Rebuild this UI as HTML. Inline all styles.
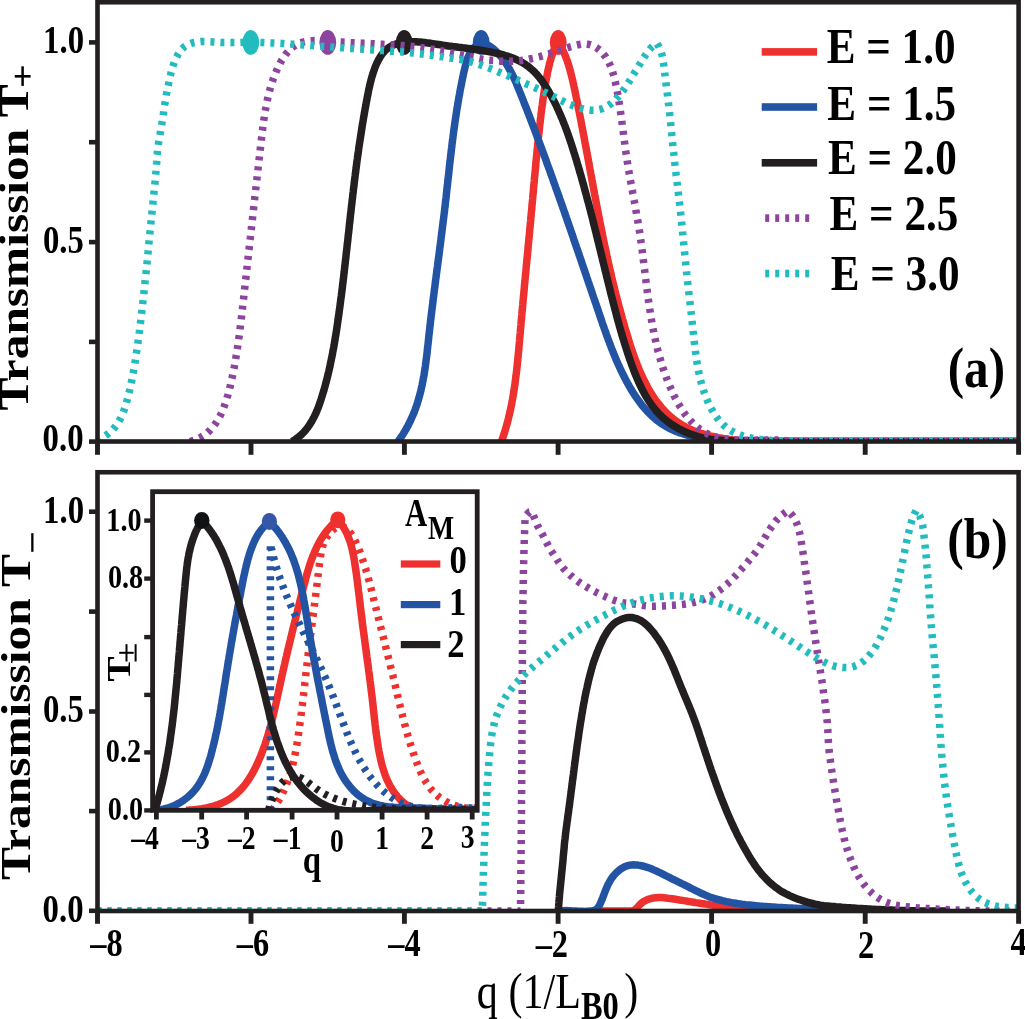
<!DOCTYPE html>
<html><head><meta charset="utf-8"><style>
html,body{margin:0;padding:0;background:#fff;}
svg{display:block;font-family:"Liberation Serif",serif;will-change:transform;}
</style></head><body>
<svg width="1025" height="1019" viewBox="0 0 1025 1019">
<rect width="1025" height="1019" fill="#fff"/>
<defs><clipPath id="cT"><rect x="97.5" y="2.25" width="921.1" height="439.25"/></clipPath><clipPath id="cB"><rect x="97.5" y="472.25" width="921.1" height="438.75"/></clipPath><clipPath id="cI"><rect x="152.6" y="491.7" width="324.6" height="318.6"/></clipPath></defs>
<g clip-path="url(#cT)">
<path d="M501.5,441.5 L502.2,439.6 L502.8,437.7 L503.4,435.8 L504.1,433.9 L504.7,432.0 L505.2,430.1 L505.8,428.2 L506.3,426.3 L506.9,424.4 L507.4,422.5 L507.9,420.6 L508.4,418.7 L508.8,416.8 L509.3,414.9 L509.7,412.9 L510.2,411.0 L510.6,409.1 L511.0,407.1 L511.4,405.2 L511.8,403.3 L512.1,401.3 L512.5,399.4 L512.8,397.4 L513.2,395.5 L513.5,393.6 L513.8,391.6 L514.1,389.6 L514.4,387.7 L514.7,385.7 L515.0,383.8 L515.2,381.8 L515.5,379.9 L515.7,377.9 L516.0,375.9 L516.2,374.0 L516.5,372.0 L516.7,370.0 L516.9,368.0 L517.1,366.1 L517.3,364.1 L517.5,362.1 L517.7,360.1 L517.9,358.2 L518.1,356.2 L518.3,354.2 L518.5,352.2 L518.7,350.2 L518.9,348.2 L519.0,346.2 L519.2,344.3 L519.4,342.3 L519.6,340.3 L519.7,338.3 L519.9,336.3 L520.1,334.3 L520.3,332.3 L520.4,330.3 L520.6,328.3 L520.8,326.3 L521.0,324.3 L521.1,322.3 L521.3,320.3 L521.5,318.3 L521.7,316.3 L521.9,314.3 L522.0,312.3 L522.2,310.3 L522.4,308.3 L522.6,306.3 L522.8,304.3 L522.9,302.3 L523.1,300.3 L523.3,298.3 L523.5,296.3 L523.7,294.3 L523.9,292.2 L524.1,290.2 L524.3,288.2 L524.4,286.2 L524.6,284.2 L524.8,282.2 L525.0,280.2 L525.2,278.2 L525.4,276.2 L525.6,274.2 L525.8,272.2 L526.0,270.2 L526.1,268.2 L526.3,266.2 L526.5,264.2 L526.7,262.2 L526.9,260.2 L527.1,258.2 L527.3,256.2 L527.5,254.2 L527.7,252.2 L527.9,250.2 L528.0,248.2 L528.2,246.2 L528.4,244.2 L528.6,242.2 L528.8,240.2 L529.0,238.2 L529.2,236.2 L529.4,234.2 L529.6,232.2 L529.7,230.2 L529.9,228.2 L530.1,226.2 L530.3,224.2 L530.5,222.3 L530.7,220.3 L530.8,218.3 L531.0,216.3 L531.2,214.3 L531.4,212.3 L531.6,210.4 L531.8,208.4 L531.9,206.4 L532.1,204.4 L532.3,202.5 L532.5,200.5 L532.7,198.5 L532.8,196.6 L533.0,194.6 L533.2,192.6 L533.4,190.6 L533.5,188.7 L533.7,186.7 L533.9,184.7 L534.1,182.7 L534.3,180.8 L534.4,178.8 L534.6,176.8 L534.8,174.8 L535.0,172.8 L535.2,170.9 L535.4,168.9 L535.6,166.9 L535.7,164.9 L535.9,162.9 L536.1,160.9 L536.3,158.9 L536.5,156.9 L536.7,154.9 L536.9,152.9 L537.1,150.9 L537.3,148.9 L537.5,146.9 L537.7,144.9 L537.9,142.8 L538.1,140.8 L538.3,138.8 L538.5,136.8 L538.7,134.8 L539.0,132.7 L539.2,130.7 L539.4,128.7 L539.6,126.7 L539.8,124.7 L540.1,122.7 L540.3,120.7 L540.5,118.7 L540.8,116.7 L541.0,114.7 L541.2,112.8 L541.5,110.8 L541.7,108.8 L542.0,106.9 L542.3,105.0 L542.5,103.1 L542.8,101.1 L543.0,99.2 L543.3,97.4 L543.6,95.5 L543.9,93.6 L544.1,91.8 L544.4,89.9 L544.7,88.1 L545.0,86.2 L545.4,84.3 L545.7,82.3 L546.1,80.3 L546.5,78.2 L546.9,76.1 L547.3,73.9 L547.7,71.7 L548.2,69.5 L548.7,67.2 L549.3,64.9 L549.8,62.6 L550.5,60.3 L551.1,58.0 L551.8,55.8 L552.5,53.6 L553.3,51.6 L554.1,49.7 L554.9,48.0 L555.8,46.7 L556.6,45.6 L557.5,44.9 L558.3,44.7 L559.2,45.0 L560.1,45.7 L560.9,46.8 L561.7,48.2 L562.5,49.7 L563.3,51.2 L564.0,52.8 L564.8,54.5 L565.4,56.2 L566.1,57.9 L566.8,59.6 L567.4,61.4 L568.0,63.2 L568.6,65.1 L569.1,66.9 L569.7,68.8 L570.2,70.7 L570.7,72.7 L571.2,74.6 L571.7,76.6 L572.2,78.6 L572.7,80.6 L573.1,82.6 L573.6,84.6 L574.0,86.6 L574.5,88.7 L574.9,90.7 L575.3,92.7 L575.7,94.8 L576.1,96.8 L576.6,98.8 L577.0,100.9 L577.4,102.9 L577.8,104.9 L578.2,106.9 L578.6,108.9 L579.0,110.9 L579.4,113.0 L579.8,115.0 L580.2,117.0 L580.6,119.0 L581.0,121.0 L581.3,123.0 L581.7,125.0 L582.1,127.0 L582.5,129.0 L582.9,131.0 L583.2,133.0 L583.6,134.9 L584.0,136.9 L584.4,138.9 L584.7,140.9 L585.1,142.9 L585.5,144.9 L585.8,146.8 L586.2,148.8 L586.6,150.8 L586.9,152.8 L587.3,154.7 L587.7,156.7 L588.0,158.7 L588.4,160.6 L588.8,162.6 L589.1,164.6 L589.5,166.5 L589.8,168.5 L590.2,170.4 L590.6,172.4 L590.9,174.4 L591.3,176.3 L591.7,178.3 L592.0,180.2 L592.4,182.2 L592.7,184.1 L593.1,186.1 L593.5,188.0 L593.8,190.0 L594.2,191.9 L594.5,193.9 L594.9,195.8 L595.3,197.7 L595.6,199.7 L596.0,201.6 L596.4,203.6 L596.7,205.5 L597.1,207.5 L597.5,209.4 L597.9,211.3 L598.2,213.3 L598.6,215.2 L599.0,217.1 L599.4,219.1 L599.7,221.0 L600.1,223.0 L600.5,224.9 L600.9,226.8 L601.3,228.8 L601.7,230.7 L602.1,232.6 L602.4,234.6 L602.8,236.5 L603.2,238.4 L603.6,240.4 L604.0,242.3 L604.4,244.2 L604.8,246.2 L605.3,248.1 L605.7,250.0 L606.1,252.0 L606.5,253.9 L606.9,255.8 L607.3,257.8 L607.8,259.7 L608.2,261.6 L608.6,263.6 L609.1,265.5 L609.5,267.4 L609.9,269.4 L610.4,271.3 L610.8,273.3 L611.3,275.2 L611.7,277.1 L612.2,279.1 L612.6,281.0 L613.1,282.9 L613.6,284.9 L614.1,286.8 L614.5,288.8 L615.0,290.7 L615.5,292.7 L616.0,294.6 L616.5,296.5 L617.0,298.5 L617.5,300.4 L618.0,302.4 L618.5,304.3 L619.0,306.3 L619.5,308.2 L620.1,310.2 L620.6,312.2 L621.1,314.1 L621.7,316.1 L622.2,318.0 L622.8,320.0 L623.3,321.9 L623.9,323.9 L624.5,325.9 L625.0,327.8 L625.6,329.8 L626.2,331.8 L626.8,333.7 L627.4,335.7 L628.0,337.7 L628.6,339.6 L629.2,341.6 L629.8,343.6 L630.4,345.5 L631.1,347.5 L631.7,349.5 L632.4,351.4 L633.1,353.4 L633.7,355.3 L634.4,357.3 L635.1,359.2 L635.9,361.1 L636.6,363.0 L637.3,364.9 L638.1,366.8 L638.8,368.7 L639.6,370.6 L640.4,372.5 L641.2,374.3 L642.1,376.1 L642.9,378.0 L643.8,379.8 L644.7,381.6 L645.6,383.3 L646.5,385.1 L647.4,386.8 L648.4,388.6 L649.4,390.3 L650.4,392.0 L651.4,393.6 L652.4,395.3 L653.5,396.9 L654.6,398.5 L655.7,400.1 L656.8,401.6 L658.0,403.2 L659.2,404.7 L660.4,406.2 L661.6,407.6 L662.9,409.1 L664.2,410.5 L665.5,411.8 L666.8,413.2 L668.2,414.5 L669.6,415.8 L671.0,417.0 L672.5,418.2 L673.9,419.4 L675.5,420.6 L677.0,421.7 L678.6,422.8 L680.2,423.8 L681.8,424.9 L683.5,425.8 L685.2,426.8 L687.0,427.7 L688.7,428.6 L690.5,429.4 L692.4,430.2 L694.2,430.9 L696.1,431.7 L698.0,432.4 L700.0,433.0 L701.9,433.6 L703.9,434.2 L705.9,434.8 L707.9,435.3 L709.9,435.8 L712.0,436.3 L714.0,436.7 L716.0,437.2 L718.1,437.6 L720.2,437.9 L722.2,438.3 L724.3,438.6 L726.3,438.9 L728.4,439.2 L730.4,439.4 L732.5,439.7 L734.5,439.9 L736.5,440.1 L738.5,440.3 L740.5,440.5 L742.5,440.6 L744.5,440.7 L746.5,440.9 L748.4,441.0 L750.4,441.1 L752.3,441.1 L754.3,441.2 L756.2,441.3 L758.2,441.3 L760.1,441.4 L762.1,441.4 L764.0,441.4 L766.0,441.5 L767.9,441.5 L769.9,441.5 L771.9,441.5 L773.8,441.5 L775.8,441.5 L777.8,441.5 L779.8,441.5 L781.8,441.5 L783.9,441.5 L785.9,441.5 L787.9,441.5 L790.0,441.5 L1018.6,441.5 " fill="none" stroke="#ee302e" stroke-width="7.5" stroke-linejoin="round"/>
<ellipse cx="558.2" cy="42.4" rx="8.4" ry="12.4" fill="#ee302e"/>
<path d="M398.0,441.5 L399.2,439.8 L400.5,438.1 L401.6,436.3 L402.8,434.6 L403.9,432.8 L404.9,431.1 L406.0,429.3 L406.9,427.5 L407.9,425.8 L408.8,424.0 L409.7,422.2 L410.6,420.4 L411.4,418.6 L412.2,416.8 L413.0,415.0 L413.8,413.2 L414.5,411.3 L415.2,409.5 L415.8,407.7 L416.5,405.8 L417.1,404.0 L417.7,402.1 L418.2,400.3 L418.8,398.4 L419.3,396.5 L419.8,394.7 L420.3,392.8 L420.8,390.9 L421.2,389.0 L421.6,387.1 L422.1,385.2 L422.4,383.3 L422.8,381.4 L423.2,379.5 L423.5,377.6 L423.9,375.7 L424.2,373.8 L424.5,371.8 L424.8,369.9 L425.1,368.0 L425.4,366.0 L425.6,364.1 L425.9,362.2 L426.1,360.2 L426.4,358.3 L426.6,356.3 L426.9,354.4 L427.1,352.4 L427.3,350.4 L427.5,348.5 L427.7,346.5 L428.0,344.5 L428.2,342.5 L428.4,340.6 L428.6,338.6 L428.8,336.6 L429.0,334.6 L429.3,332.6 L429.5,330.6 L429.7,328.6 L429.9,326.6 L430.2,324.6 L430.4,322.6 L430.6,320.6 L430.9,318.6 L431.1,316.6 L431.3,314.6 L431.6,312.6 L431.8,310.6 L432.1,308.6 L432.3,306.6 L432.6,304.6 L432.8,302.6 L433.1,300.5 L433.3,298.5 L433.6,296.5 L433.8,294.5 L434.1,292.5 L434.3,290.5 L434.6,288.4 L434.9,286.4 L435.1,284.4 L435.4,282.4 L435.6,280.3 L435.9,278.3 L436.2,276.3 L436.4,274.3 L436.7,272.3 L436.9,270.2 L437.2,268.2 L437.5,266.2 L437.7,264.2 L438.0,262.2 L438.3,260.1 L438.5,258.1 L438.8,256.1 L439.1,254.1 L439.3,252.1 L439.6,250.0 L439.8,248.0 L440.1,246.0 L440.4,244.0 L440.6,242.0 L440.9,240.0 L441.1,238.0 L441.4,236.0 L441.6,233.9 L441.9,231.9 L442.1,229.9 L442.4,227.9 L442.6,225.9 L442.9,223.9 L443.1,221.9 L443.4,220.0 L443.6,218.0 L443.9,216.0 L444.1,214.0 L444.4,212.0 L444.6,210.0 L444.8,208.0 L445.1,206.1 L445.3,204.1 L445.5,202.1 L445.7,200.2 L446.0,198.2 L446.2,196.2 L446.4,194.3 L446.6,192.3 L446.8,190.4 L447.0,188.4 L447.3,186.4 L447.5,184.5 L447.7,182.5 L447.9,180.6 L448.1,178.6 L448.3,176.7 L448.6,174.8 L448.8,172.8 L449.0,170.9 L449.2,168.9 L449.4,167.0 L449.6,165.0 L449.8,163.1 L450.1,161.1 L450.3,159.2 L450.5,157.2 L450.7,155.3 L451.0,153.4 L451.2,151.4 L451.4,149.5 L451.7,147.5 L451.9,145.6 L452.1,143.6 L452.4,141.6 L452.6,139.7 L452.9,137.7 L453.1,135.8 L453.4,133.8 L453.6,131.8 L453.9,129.9 L454.2,127.9 L454.5,125.9 L454.7,124.0 L455.0,122.0 L455.3,120.0 L455.6,118.0 L455.9,116.0 L456.2,114.0 L456.5,112.0 L456.8,110.0 L457.1,108.0 L457.5,106.0 L457.8,104.0 L458.1,102.0 L458.5,100.0 L458.8,98.0 L459.2,95.9 L459.6,93.9 L459.9,91.9 L460.3,89.8 L460.7,87.8 L461.1,85.7 L461.5,83.7 L461.9,81.6 L462.3,79.5 L462.8,77.4 L463.2,75.4 L463.6,73.3 L464.1,71.2 L464.6,69.1 L465.1,67.0 L465.6,64.9 L466.1,62.9 L466.7,60.9 L467.3,59.0 L468.0,57.2 L468.8,55.4 L469.6,53.7 L470.5,52.1 L471.4,50.6 L472.4,49.2 L473.6,47.9 L474.8,46.8 L476.1,45.9 L477.5,45.1 L478.9,44.4 L480.4,44.0 L482.0,43.8 L483.6,43.9 L485.2,44.2 L486.9,44.7 L488.5,45.5 L490.2,46.5 L491.8,47.6 L493.4,48.9 L495.0,50.3 L496.5,51.7 L497.9,53.2 L499.3,54.7 L500.6,56.2 L501.9,57.7 L503.2,59.3 L504.3,61.0 L505.5,62.6 L506.6,64.3 L507.6,66.0 L508.7,67.7 L509.6,69.5 L510.6,71.2 L511.5,73.0 L512.4,74.8 L513.3,76.6 L514.1,78.4 L515.0,80.3 L515.8,82.1 L516.6,84.0 L517.3,85.8 L518.1,87.7 L518.9,89.6 L519.6,91.4 L520.4,93.3 L521.1,95.2 L521.9,97.1 L522.6,98.9 L523.4,100.8 L524.1,102.7 L524.8,104.6 L525.6,106.4 L526.3,108.3 L527.1,110.2 L527.8,112.1 L528.5,113.9 L529.2,115.8 L530.0,117.7 L530.7,119.6 L531.4,121.5 L532.1,123.3 L532.8,125.2 L533.6,127.1 L534.3,129.0 L535.0,130.8 L535.7,132.7 L536.4,134.6 L537.1,136.5 L537.8,138.3 L538.5,140.2 L539.2,142.1 L539.9,144.0 L540.6,145.9 L541.3,147.7 L542.0,149.6 L542.7,151.5 L543.4,153.4 L544.1,155.3 L544.8,157.1 L545.5,159.0 L546.2,160.9 L546.8,162.8 L547.5,164.7 L548.2,166.5 L548.9,168.4 L549.6,170.3 L550.3,172.2 L550.9,174.1 L551.6,175.9 L552.3,177.8 L553.0,179.7 L553.6,181.6 L554.3,183.5 L555.0,185.3 L555.6,187.2 L556.3,189.1 L557.0,191.0 L557.6,192.9 L558.3,194.7 L559.0,196.6 L559.6,198.5 L560.3,200.4 L561.0,202.3 L561.6,204.2 L562.3,206.0 L562.9,207.9 L563.6,209.8 L564.3,211.7 L564.9,213.6 L565.6,215.5 L566.2,217.3 L566.9,219.2 L567.5,221.1 L568.2,223.0 L568.8,224.9 L569.5,226.8 L570.2,228.7 L570.8,230.5 L571.5,232.4 L572.1,234.3 L572.8,236.2 L573.4,238.1 L574.0,240.0 L574.7,241.9 L575.3,243.7 L576.0,245.6 L576.6,247.5 L577.3,249.4 L577.9,251.3 L578.6,253.2 L579.2,255.1 L579.9,257.0 L580.5,258.8 L581.2,260.7 L581.8,262.6 L582.4,264.5 L583.1,266.4 L583.7,268.3 L584.4,270.2 L585.0,272.1 L585.7,274.0 L586.3,275.8 L586.9,277.7 L587.6,279.6 L588.2,281.5 L588.9,283.4 L589.5,285.3 L590.2,287.2 L590.8,289.1 L591.5,291.0 L592.1,292.9 L592.7,294.8 L593.4,296.7 L594.0,298.5 L594.7,300.4 L595.3,302.3 L596.0,304.2 L596.6,306.1 L597.3,308.0 L597.9,309.9 L598.6,311.8 L599.2,313.7 L599.8,315.6 L600.5,317.5 L601.1,319.4 L601.8,321.3 L602.4,323.2 L603.1,325.1 L603.8,327.0 L604.4,328.8 L605.1,330.7 L605.8,332.6 L606.4,334.5 L607.1,336.4 L607.8,338.3 L608.5,340.2 L609.2,342.0 L609.9,343.9 L610.6,345.8 L611.3,347.7 L612.0,349.5 L612.8,351.4 L613.5,353.3 L614.3,355.1 L615.1,357.0 L615.8,358.8 L616.6,360.7 L617.4,362.5 L618.2,364.3 L619.1,366.2 L619.9,368.0 L620.7,369.8 L621.6,371.6 L622.5,373.4 L623.4,375.2 L624.3,377.0 L625.2,378.8 L626.2,380.6 L627.1,382.4 L628.1,384.1 L629.1,385.9 L630.1,387.6 L631.1,389.4 L632.2,391.1 L633.2,392.8 L634.3,394.5 L635.4,396.2 L636.6,397.9 L637.7,399.5 L638.9,401.1 L640.1,402.7 L641.3,404.3 L642.5,405.8 L643.8,407.4 L645.1,408.9 L646.4,410.3 L647.7,411.8 L649.1,413.2 L650.5,414.6 L651.9,415.9 L653.3,417.2 L654.8,418.5 L656.3,419.8 L657.8,421.0 L659.3,422.1 L660.9,423.3 L662.5,424.3 L664.2,425.4 L665.8,426.4 L667.5,427.3 L669.3,428.3 L671.0,429.1 L672.8,430.0 L674.6,430.7 L676.4,431.5 L678.3,432.2 L680.1,432.9 L682.0,433.5 L684.0,434.1 L685.9,434.7 L687.8,435.3 L689.8,435.8 L691.8,436.2 L693.8,436.7 L695.8,437.1 L697.8,437.5 L699.8,437.9 L701.9,438.2 L703.9,438.5 L706.0,438.8 L708.0,439.1 L710.1,439.3 L712.1,439.6 L714.2,439.8 L716.3,440.0 L718.4,440.2 L720.4,440.3 L722.5,440.5 L724.6,440.6 L726.6,440.7 L728.7,440.8 L730.7,440.9 L732.8,441.0 L734.8,441.0 L736.8,441.1 L738.9,441.1 L740.9,441.2 L742.8,441.2 L744.8,441.3 L746.8,441.3 L748.7,441.3 L750.7,441.4 L752.6,441.4 L754.5,441.4 L756.3,441.4 L758.2,441.5 L760.0,441.5 L1018.6,441.5 " fill="none" stroke="#2354a4" stroke-width="7.5" stroke-linejoin="round"/>
<ellipse cx="481.2" cy="42.4" rx="8.4" ry="12.4" fill="#2354a4"/>
<path d="M292.0,441.5 L293.8,440.4 L295.5,439.3 L297.1,438.1 L298.7,436.9 L300.2,435.6 L301.7,434.3 L303.1,432.9 L304.4,431.5 L305.7,430.0 L306.9,428.5 L308.1,426.9 L309.2,425.3 L310.3,423.7 L311.3,422.0 L312.3,420.3 L313.2,418.6 L314.2,416.8 L315.0,415.0 L315.9,413.2 L316.7,411.3 L317.4,409.5 L318.2,407.6 L318.9,405.7 L319.6,403.8 L320.2,401.9 L320.9,400.0 L321.5,398.0 L322.1,396.1 L322.7,394.2 L323.3,392.2 L323.9,390.3 L324.4,388.3 L325.0,386.4 L325.5,384.4 L326.0,382.5 L326.5,380.6 L327.0,378.6 L327.5,376.7 L328.0,374.7 L328.4,372.8 L328.9,370.8 L329.3,368.9 L329.8,366.9 L330.2,365.0 L330.6,363.0 L331.0,361.1 L331.4,359.1 L331.8,357.2 L332.2,355.2 L332.6,353.3 L332.9,351.3 L333.3,349.3 L333.7,347.4 L334.0,345.4 L334.4,343.5 L334.7,341.5 L335.0,339.6 L335.3,337.6 L335.7,335.6 L336.0,333.7 L336.3,331.7 L336.6,329.7 L336.9,327.8 L337.2,325.8 L337.5,323.8 L337.8,321.8 L338.0,319.9 L338.3,317.9 L338.6,315.9 L338.9,313.9 L339.2,311.9 L339.4,310.0 L339.7,308.0 L340.0,306.0 L340.2,304.0 L340.5,302.0 L340.7,300.0 L341.0,298.0 L341.3,296.0 L341.5,294.1 L341.8,292.1 L342.0,290.1 L342.3,288.1 L342.5,286.1 L342.7,284.1 L343.0,282.1 L343.2,280.1 L343.5,278.1 L343.7,276.1 L343.9,274.1 L344.2,272.1 L344.4,270.1 L344.6,268.1 L344.9,266.0 L345.1,264.0 L345.3,262.0 L345.5,260.0 L345.8,258.0 L346.0,256.0 L346.2,254.0 L346.4,252.0 L346.7,250.0 L346.9,248.0 L347.1,246.0 L347.3,244.0 L347.6,242.0 L347.8,240.0 L348.0,238.0 L348.2,236.0 L348.4,234.0 L348.7,232.0 L348.9,230.0 L349.1,228.0 L349.3,225.9 L349.5,223.9 L349.8,221.9 L350.0,219.9 L350.2,217.9 L350.4,215.9 L350.6,213.9 L350.9,212.0 L351.1,210.0 L351.3,208.0 L351.5,206.0 L351.8,204.0 L352.0,202.0 L352.2,200.0 L352.5,198.0 L352.7,196.0 L352.9,194.0 L353.2,192.0 L353.4,190.1 L353.6,188.1 L353.9,186.1 L354.1,184.1 L354.3,182.1 L354.6,180.2 L354.8,178.2 L355.1,176.2 L355.3,174.2 L355.6,172.3 L355.8,170.3 L356.1,168.3 L356.3,166.4 L356.6,164.4 L356.8,162.4 L357.1,160.5 L357.4,158.5 L357.6,156.6 L357.9,154.6 L358.2,152.7 L358.5,150.7 L358.7,148.8 L359.0,146.8 L359.3,144.9 L359.6,143.0 L359.9,141.0 L360.2,139.1 L360.5,137.1 L360.8,135.2 L361.1,133.3 L361.4,131.3 L361.7,129.4 L362.0,127.4 L362.3,125.4 L362.6,123.5 L363.0,121.5 L363.3,119.5 L363.6,117.6 L364.0,115.6 L364.3,113.6 L364.7,111.6 L365.0,109.6 L365.4,107.6 L365.8,105.5 L366.1,103.5 L366.5,101.5 L366.9,99.4 L367.3,97.3 L367.7,95.3 L368.1,93.2 L368.5,91.1 L368.9,89.0 L369.4,87.0 L369.9,84.9 L370.3,82.8 L370.9,80.8 L371.4,78.7 L372.0,76.7 L372.6,74.7 L373.2,72.7 L373.9,70.7 L374.6,68.8 L375.3,66.8 L376.1,64.9 L376.9,63.1 L377.8,61.3 L378.7,59.5 L379.7,57.8 L380.7,56.2 L381.8,54.6 L382.9,53.1 L384.1,51.7 L385.3,50.4 L386.6,49.2 L388.0,48.1 L389.5,47.1 L391.0,46.2 L392.5,45.4 L394.1,44.7 L395.8,44.1 L397.5,43.5 L399.2,43.0 L401.0,42.7 L402.8,42.3 L404.7,42.1 L406.5,41.9 L408.5,41.8 L410.4,41.7 L412.3,41.7 L414.3,41.8 L416.3,41.8 L418.3,42.0 L420.3,42.1 L422.3,42.3 L424.3,42.5 L426.4,42.8 L428.4,43.0 L430.4,43.3 L432.5,43.6 L434.5,43.9 L436.5,44.2 L438.5,44.5 L440.6,44.8 L442.6,45.1 L444.6,45.4 L446.6,45.7 L448.6,46.0 L450.6,46.2 L452.6,46.5 L454.6,46.7 L456.6,47.0 L458.6,47.3 L460.6,47.5 L462.6,47.8 L464.7,48.0 L466.7,48.3 L468.7,48.6 L470.7,48.8 L472.8,49.1 L474.8,49.4 L476.9,49.7 L479.0,50.0 L481.1,50.3 L483.1,50.6 L485.2,51.0 L487.3,51.4 L489.4,51.7 L491.5,52.1 L493.6,52.6 L495.6,53.0 L497.6,53.5 L499.7,53.9 L501.7,54.5 L503.6,55.0 L505.5,55.6 L507.4,56.1 L509.3,56.8 L511.1,57.4 L512.9,58.1 L514.7,58.8 L516.4,59.6 L518.1,60.4 L519.7,61.2 L521.4,62.1 L523.0,63.0 L524.5,63.9 L526.0,64.9 L527.5,66.0 L529.0,67.1 L530.4,68.3 L531.8,69.5 L533.2,70.8 L534.6,72.1 L535.9,73.5 L537.2,74.9 L538.4,76.4 L539.7,77.9 L540.9,79.5 L542.1,81.1 L543.2,82.8 L544.4,84.5 L545.5,86.2 L546.6,87.9 L547.7,89.7 L548.7,91.4 L549.7,93.2 L550.7,95.0 L551.7,96.8 L552.7,98.6 L553.6,100.5 L554.6,102.3 L555.5,104.1 L556.4,105.9 L557.2,107.8 L558.1,109.6 L558.9,111.4 L559.7,113.3 L560.5,115.1 L561.3,117.0 L562.1,118.8 L562.9,120.7 L563.6,122.6 L564.3,124.4 L565.1,126.3 L565.8,128.2 L566.5,130.1 L567.2,131.9 L567.8,133.8 L568.5,135.7 L569.2,137.6 L569.8,139.5 L570.4,141.4 L571.1,143.3 L571.7,145.2 L572.3,147.1 L572.9,149.0 L573.5,150.9 L574.1,152.8 L574.7,154.7 L575.3,156.6 L575.9,158.5 L576.5,160.4 L577.0,162.4 L577.6,164.3 L578.2,166.2 L578.7,168.1 L579.3,170.0 L579.8,172.0 L580.4,173.9 L581.0,175.8 L581.5,177.7 L582.0,179.7 L582.6,181.6 L583.1,183.5 L583.7,185.4 L584.2,187.4 L584.7,189.3 L585.2,191.2 L585.8,193.2 L586.3,195.1 L586.8,197.0 L587.3,199.0 L587.8,200.9 L588.4,202.9 L588.9,204.8 L589.4,206.7 L589.9,208.7 L590.4,210.6 L590.9,212.6 L591.4,214.5 L591.9,216.4 L592.4,218.4 L592.9,220.3 L593.3,222.3 L593.8,224.2 L594.3,226.2 L594.8,228.1 L595.3,230.1 L595.8,232.0 L596.3,233.9 L596.7,235.9 L597.2,237.8 L597.7,239.8 L598.2,241.7 L598.7,243.7 L599.1,245.6 L599.6,247.6 L600.1,249.5 L600.6,251.4 L601.0,253.4 L601.5,255.3 L602.0,257.3 L602.5,259.2 L602.9,261.2 L603.4,263.1 L603.9,265.0 L604.4,267.0 L604.8,268.9 L605.3,270.9 L605.8,272.8 L606.3,274.7 L606.7,276.7 L607.2,278.6 L607.7,280.6 L608.2,282.5 L608.6,284.4 L609.1,286.4 L609.6,288.3 L610.1,290.2 L610.5,292.2 L611.0,294.1 L611.5,296.0 L612.0,297.9 L612.5,299.9 L613.0,301.8 L613.5,303.7 L614.0,305.6 L614.5,307.6 L615.0,309.5 L615.5,311.4 L616.0,313.3 L616.5,315.3 L617.0,317.2 L617.5,319.1 L618.0,321.0 L618.6,322.9 L619.1,324.9 L619.6,326.8 L620.2,328.7 L620.7,330.6 L621.3,332.5 L621.8,334.5 L622.4,336.4 L623.0,338.3 L623.6,340.2 L624.2,342.1 L624.7,344.0 L625.4,346.0 L626.0,347.9 L626.6,349.8 L627.2,351.7 L627.8,353.6 L628.5,355.5 L629.1,357.5 L629.8,359.4 L630.5,361.3 L631.2,363.2 L631.8,365.1 L632.6,367.0 L633.3,369.0 L634.0,370.9 L634.7,372.8 L635.5,374.7 L636.3,376.6 L637.1,378.4 L637.9,380.3 L638.7,382.2 L639.5,384.0 L640.4,385.8 L641.3,387.7 L642.2,389.5 L643.1,391.2 L644.1,393.0 L645.0,394.7 L646.0,396.5 L647.1,398.2 L648.1,399.9 L649.2,401.5 L650.3,403.1 L651.4,404.7 L652.6,406.3 L653.8,407.9 L655.1,409.4 L656.3,410.9 L657.6,412.3 L659.0,413.8 L660.3,415.1 L661.7,416.5 L663.2,417.8 L664.7,419.1 L666.2,420.3 L667.7,421.6 L669.3,422.7 L670.9,423.9 L672.5,425.0 L674.2,426.0 L675.9,427.1 L677.6,428.1 L679.3,429.0 L681.1,429.9 L682.9,430.8 L684.7,431.7 L686.5,432.5 L688.3,433.2 L690.2,434.0 L692.1,434.7 L694.0,435.3 L695.9,435.9 L697.9,436.5 L699.8,437.1 L701.8,437.6 L703.8,438.0 L705.8,438.4 L707.8,438.8 L709.8,439.2 L711.8,439.5 L713.8,439.8 L715.8,440.0 L717.9,440.2 L719.9,440.4 L722.0,440.5 L724.0,440.6 L726.1,440.7 L728.2,440.8 L730.2,440.9 L732.3,440.9 L734.3,440.9 L736.4,440.9 L738.4,440.9 L740.5,440.9 L742.5,440.9 L744.6,440.9 L746.6,440.9 L748.6,440.8 L750.6,440.8 L752.6,440.8 L754.6,440.8 L756.6,440.9 L758.5,440.9 L760.5,440.9 L762.4,441.0 L764.3,441.1 L766.2,441.2 L768.1,441.3 L770.0,441.5 L1018.6,441.5 " fill="none" stroke="#231f20" stroke-width="7.5" stroke-linejoin="round"/>
<ellipse cx="404.2" cy="42.4" rx="8.4" ry="12.4" fill="#231f20"/>
<ellipse cx="327.8" cy="42.4" rx="8.4" ry="12.4" fill="#8c449e"/>
<path d="M190.0,441.5 L192.1,440.9 L194.0,440.3 L196.0,439.5 L197.8,438.7 L199.6,437.9 L201.3,436.9 L202.9,435.9 L204.5,434.8 L206.0,433.7 L207.5,432.5 L208.9,431.2 L210.3,429.9 L211.5,428.5 L212.8,427.1 L214.0,425.6 L215.1,424.1 L216.2,422.5 L217.2,420.9 L218.2,419.3 L219.2,417.6 L220.1,415.9 L221.0,414.1 L221.8,412.3 L222.6,410.5 L223.4,408.6 L224.1,406.7 L224.8,404.8 L225.5,402.9 L226.1,401.0 L226.7,399.0 L227.3,397.0 L227.9,395.0 L228.4,393.0 L229.0,391.0 L229.5,389.0 L230.0,387.0 L230.5,385.0 L230.9,383.0 L231.4,381.0 L231.8,379.0 L232.3,376.9 L232.7,374.9 L233.1,372.9 L233.5,370.9 L233.9,368.9 L234.3,366.9 L234.6,364.9 L235.0,362.9 L235.4,360.9 L235.7,358.9 L236.0,356.9 L236.4,354.9 L236.7,353.0 L237.0,351.0 L237.3,349.0 L237.6,347.0 L237.9,345.0 L238.2,343.0 L238.5,341.0 L238.7,339.1 L239.0,337.1 L239.3,335.1 L239.5,333.1 L239.8,331.1 L240.0,329.1 L240.3,327.2 L240.5,325.2 L240.8,323.2 L241.0,321.2 L241.2,319.3 L241.5,317.3 L241.7,315.3 L241.9,313.3 L242.1,311.3 L242.4,309.4 L242.6,307.4 L242.8,305.4 L243.0,303.4 L243.2,301.5 L243.5,299.5 L243.7,297.5 L243.9,295.5 L244.1,293.6 L244.3,291.6 L244.5,289.6 L244.8,287.6 L245.0,285.7 L245.2,283.7 L245.4,281.7 L245.6,279.7 L245.9,277.8 L246.1,275.8 L246.3,273.8 L246.5,271.8 L246.7,269.8 L247.0,267.9 L247.2,265.9 L247.4,263.9 L247.6,261.9 L247.8,260.0 L248.1,258.0 L248.3,256.0 L248.5,254.0 L248.7,252.0 L248.9,250.1 L249.2,248.1 L249.4,246.1 L249.6,244.1 L249.8,242.1 L250.0,240.2 L250.3,238.2 L250.5,236.2 L250.7,234.2 L250.9,232.2 L251.1,230.2 L251.4,228.3 L251.6,226.3 L251.8,224.3 L252.0,222.3 L252.3,220.3 L252.5,218.3 L252.7,216.3 L252.9,214.3 L253.1,212.4 L253.4,210.4 L253.6,208.4 L253.8,206.4 L254.0,204.4 L254.3,202.4 L254.5,200.4 L254.7,198.4 L254.9,196.4 L255.2,194.4 L255.4,192.5 L255.6,190.5 L255.8,188.5 L256.1,186.5 L256.3,184.5 L256.5,182.5 L256.7,180.5 L257.0,178.5 L257.2,176.5 L257.4,174.5 L257.6,172.5 L257.9,170.5 L258.1,168.5 L258.3,166.5 L258.5,164.5 L258.8,162.5 L259.0,160.5 L259.2,158.5 L259.5,156.5 L259.7,154.5 L259.9,152.5 L260.1,150.5 L260.4,148.4 L260.6,146.4 L260.8,144.4 L261.1,142.4 L261.3,140.4 L261.5,138.4 L261.8,136.4 L262.0,134.4 L262.2,132.4 L262.5,130.3 L262.7,128.3 L263.0,126.3 L263.3,124.3 L263.5,122.3 L263.8,120.3 L264.1,118.3 L264.4,116.3 L264.7,114.3 L265.0,112.3 L265.4,110.3 L265.7,108.4 L266.1,106.4 L266.4,104.4 L266.8,102.4 L267.2,100.5 L267.7,98.5 L268.1,96.6 L268.6,94.6 L269.1,92.7 L269.6,90.8 L270.1,88.9 L270.7,86.9 L271.2,85.0 L271.8,83.1 L272.5,81.2 L273.1,79.4 L273.8,77.5 L274.5,75.6 L275.2,73.8 L276.0,71.9 L276.8,70.1 L277.6,68.3 L278.5,66.5 L279.4,64.7 L280.3,62.9 L281.2,61.2 L282.3,59.5 L283.3,57.8 L284.4,56.2 L285.5,54.6 L286.7,53.1 L287.9,51.7 L289.2,50.3 L290.5,49.0 L291.9,47.8 L293.3,46.7 L294.8,45.7 L296.3,44.8 L297.9,44.0 L299.6,43.3 L301.3,42.6 L303.0,42.1 L304.8,41.7 L306.7,41.3 L308.6,41.1 L310.5,40.9 L312.4,40.7 L314.4,40.6 L316.4,40.6 L318.5,40.6 L320.5,40.6 L322.6,40.7 L324.7,40.8 L326.8,40.9 L328.9,41.1 L331.0,41.2 L333.1,41.4 L335.3,41.6 L337.4,41.7 L339.5,41.9 L341.6,42.0 L343.7,42.2 L345.8,42.3 L347.8,42.4 L349.9,42.6 L352.0,42.7 L354.1,42.8 L356.1,42.9 L358.2,43.0 L360.3,43.1 L362.3,43.2 L364.4,43.3 L366.4,43.4 L368.4,43.5 L370.5,43.6 L372.5,43.7 L374.5,43.8 L376.5,44.0 L378.6,44.1 L380.6,44.2 L382.6,44.3 L384.6,44.4 L386.6,44.5 L388.6,44.6 L390.6,44.7 L392.6,44.9 L394.6,45.0 L396.6,45.2 L398.6,45.3 L400.6,45.5 L402.6,45.6 L404.5,45.8 L406.5,46.0 L408.5,46.1 L410.5,46.3 L412.4,46.5 L414.4,46.8 L416.4,47.0 L418.3,47.2 L420.3,47.5 L422.3,47.7 L424.2,48.0 L426.2,48.3 L428.2,48.6 L430.1,48.9 L432.1,49.2 L434.0,49.5 L436.0,49.9 L437.9,50.2 L439.9,50.6 L441.9,51.0 L443.8,51.4 L445.8,51.8 L447.7,52.2 L449.7,52.6 L451.6,53.0 L453.6,53.5 L455.5,53.9 L457.5,54.3 L459.4,54.7 L461.4,55.1 L463.3,55.6 L465.3,56.0 L467.3,56.4 L469.2,56.8 L471.2,57.2 L473.1,57.6 L475.1,57.9 L477.1,58.3 L479.0,58.6 L481.0,59.0 L483.0,59.3 L484.9,59.6 L486.9,59.8 L488.9,60.1 L490.9,60.3 L492.8,60.6 L494.8,60.7 L496.8,60.9 L498.8,61.0 L500.8,61.2 L502.8,61.2 L504.8,61.3 L506.8,61.3 L508.8,61.3 L510.8,61.3 L512.8,61.2 L514.8,61.1 L516.8,60.9 L518.8,60.7 L520.8,60.5 L522.9,60.2 L524.9,59.9 L526.9,59.6 L529.0,59.2 L531.0,58.7 L533.1,58.3 L535.1,57.8 L537.1,57.3 L539.2,56.8 L541.2,56.2 L543.2,55.6 L545.2,55.0 L547.2,54.4 L549.3,53.8 L551.2,53.1 L553.2,52.5 L555.2,51.8 L557.2,51.2 L559.1,50.5 L561.1,49.9 L563.0,49.2 L564.9,48.6 L566.8,47.9 L568.7,47.3 L570.5,46.7 L572.4,46.2 L574.2,45.6 L576.0,45.2 L577.8,44.8 L579.6,44.5 L581.3,44.2 L583.0,44.1 L584.7,44.0 L586.3,44.1 L588.0,44.3 L589.6,44.6 L591.2,45.1 L592.7,45.6 L594.2,46.4 L595.7,47.2 L597.1,48.1 L598.5,49.2 L599.9,50.3 L601.2,51.5 L602.4,52.9 L603.6,54.3 L604.8,55.8 L605.9,57.3 L606.9,59.0 L607.9,60.6 L608.8,62.4 L609.7,64.2 L610.5,66.0 L611.3,67.9 L612.0,69.8 L612.6,71.8 L613.2,73.8 L613.8,75.8 L614.3,77.8 L614.8,79.8 L615.3,81.9 L615.7,84.0 L616.2,86.0 L616.6,88.1 L617.0,90.2 L617.4,92.2 L617.7,94.3 L618.1,96.4 L618.4,98.4 L618.8,100.5 L619.1,102.5 L619.4,104.5 L619.7,106.6 L620.1,108.6 L620.3,110.6 L620.6,112.6 L620.9,114.7 L621.2,116.7 L621.5,118.7 L621.8,120.7 L622.0,122.7 L622.3,124.7 L622.5,126.7 L622.8,128.7 L623.1,130.7 L623.3,132.7 L623.6,134.6 L623.8,136.6 L624.1,138.6 L624.3,140.6 L624.6,142.6 L624.9,144.5 L625.1,146.5 L625.4,148.5 L625.6,150.4 L625.9,152.4 L626.2,154.3 L626.5,156.3 L626.8,158.3 L627.1,160.2 L627.4,162.2 L627.7,164.1 L628.0,166.1 L628.3,168.0 L628.6,170.0 L629.0,171.9 L629.3,173.9 L629.6,175.8 L630.0,177.8 L630.3,179.7 L630.7,181.7 L631.0,183.6 L631.4,185.6 L631.7,187.5 L632.1,189.5 L632.5,191.4 L632.8,193.4 L633.2,195.3 L633.5,197.3 L633.9,199.2 L634.3,201.2 L634.6,203.1 L635.0,205.1 L635.3,207.0 L635.7,209.0 L636.0,211.0 L636.4,212.9 L636.7,214.9 L637.1,216.8 L637.4,218.8 L637.8,220.8 L638.1,222.7 L638.4,224.7 L638.7,226.7 L639.1,228.6 L639.4,230.6 L639.7,232.6 L640.0,234.6 L640.3,236.6 L640.5,238.5 L640.8,240.5 L641.1,242.5 L641.4,244.5 L641.6,246.5 L641.9,248.5 L642.2,250.5 L642.4,252.5 L642.7,254.5 L642.9,256.5 L643.2,258.5 L643.4,260.5 L643.7,262.5 L643.9,264.5 L644.2,266.5 L644.4,268.5 L644.7,270.5 L644.9,272.5 L645.2,274.5 L645.4,276.5 L645.6,278.5 L645.9,280.5 L646.1,282.5 L646.4,284.6 L646.6,286.6 L646.9,288.6 L647.2,290.6 L647.4,292.6 L647.7,294.6 L648.0,296.6 L648.2,298.6 L648.5,300.6 L648.8,302.6 L649.1,304.6 L649.4,306.6 L649.7,308.6 L650.0,310.5 L650.3,312.5 L650.6,314.5 L650.9,316.5 L651.2,318.5 L651.6,320.5 L651.9,322.5 L652.3,324.4 L652.6,326.4 L653.0,328.4 L653.4,330.4 L653.8,332.3 L654.2,334.3 L654.6,336.3 L655.0,338.2 L655.4,340.2 L655.9,342.1 L656.3,344.1 L656.8,346.0 L657.3,348.0 L657.7,349.9 L658.2,351.8 L658.8,353.8 L659.3,355.7 L659.8,357.6 L660.4,359.5 L660.9,361.4 L661.5,363.4 L662.1,365.3 L662.7,367.2 L663.3,369.1 L664.0,371.0 L664.6,372.8 L665.3,374.7 L666.0,376.6 L666.7,378.5 L667.4,380.3 L668.1,382.2 L668.9,384.0 L669.7,385.9 L670.5,387.7 L671.3,389.6 L672.1,391.4 L673.0,393.2 L673.8,395.1 L674.7,396.9 L675.6,398.6 L676.6,400.4 L677.5,402.2 L678.5,403.9 L679.5,405.6 L680.5,407.3 L681.6,409.0 L682.7,410.7 L683.8,412.3 L684.9,413.9 L686.1,415.5 L687.3,417.0 L688.5,418.5 L689.8,419.9 L691.1,421.4 L692.4,422.7 L693.7,424.1 L695.1,425.4 L696.6,426.6 L698.0,427.8 L699.5,429.0 L701.1,430.1 L702.6,431.1 L704.2,432.1 L705.9,433.0 L707.6,433.9 L709.3,434.7 L711.1,435.5 L712.9,436.2 L714.8,436.8 L716.7,437.4 L718.6,437.9 L720.6,438.3 L722.6,438.7 L724.6,439.0 L726.6,439.3 L728.7,439.6 L730.8,439.8 L733.0,440.0 L735.1,440.1 L737.3,440.2 L739.4,440.3 L741.6,440.3 L743.8,440.3 L746.0,440.3 L748.2,440.3 L750.4,440.3 L752.5,440.2 L754.7,440.2 L756.9,440.1 L759.1,440.1 L761.2,440.0 L763.3,440.0 L765.4,440.0 L767.5,439.9 L769.6,439.9 L771.6,439.9 L773.7,439.9 L775.6,440.0 L777.6,440.0 L779.5,440.1 L781.3,440.3 L783.2,440.4 L785.0,440.6 L786.7,440.9 L788.4,441.2 L790.0,441.5 L1018.6,441.5 " fill="none" stroke="#8c449e" stroke-width="7.5" stroke-linejoin="round" stroke-dasharray="4 6"/>
<ellipse cx="250.8" cy="42.4" rx="8.4" ry="12.4" fill="#22bcbe"/>
<path d="M97.5,441.5 L99.0,440.1 L100.6,438.8 L102.2,437.7 L103.9,436.6 L105.5,435.6 L107.1,434.5 L108.7,433.3 L110.2,432.0 L111.7,430.6 L113.1,429.2 L114.4,427.7 L115.7,426.1 L116.9,424.5 L118.0,422.9 L119.0,421.2 L120.0,419.4 L120.9,417.7 L121.8,415.9 L122.6,414.0 L123.3,412.2 L124.0,410.3 L124.7,408.4 L125.3,406.5 L125.9,404.6 L126.5,402.7 L127.0,400.7 L127.5,398.8 L128.1,396.8 L128.5,394.9 L129.0,392.9 L129.5,390.9 L129.9,389.0 L130.4,387.0 L130.8,385.1 L131.2,383.1 L131.6,381.1 L132.0,379.2 L132.4,377.2 L132.8,375.2 L133.2,373.3 L133.5,371.3 L133.9,369.3 L134.2,367.4 L134.6,365.4 L134.9,363.4 L135.2,361.4 L135.5,359.5 L135.8,357.5 L136.1,355.5 L136.4,353.5 L136.7,351.5 L137.0,349.6 L137.3,347.6 L137.5,345.6 L137.8,343.6 L138.1,341.6 L138.3,339.7 L138.6,337.7 L138.9,335.7 L139.1,333.7 L139.4,331.7 L139.6,329.7 L139.9,327.8 L140.1,325.8 L140.4,323.8 L140.6,321.8 L140.8,319.8 L141.1,317.8 L141.3,315.8 L141.5,313.9 L141.8,311.9 L142.0,309.9 L142.2,307.9 L142.5,305.9 L142.7,303.9 L142.9,301.9 L143.1,299.9 L143.3,297.9 L143.6,296.0 L143.8,294.0 L144.0,292.0 L144.2,290.0 L144.4,288.0 L144.6,286.0 L144.8,284.0 L145.0,282.0 L145.2,280.0 L145.4,278.0 L145.7,276.0 L145.9,274.0 L146.1,272.1 L146.3,270.1 L146.5,268.1 L146.7,266.1 L146.9,264.1 L147.1,262.1 L147.3,260.1 L147.5,258.1 L147.7,256.1 L147.9,254.1 L148.1,252.1 L148.3,250.1 L148.5,248.1 L148.6,246.1 L148.8,244.2 L149.0,242.2 L149.2,240.2 L149.4,238.2 L149.6,236.2 L149.8,234.2 L150.0,232.2 L150.2,230.2 L150.4,228.2 L150.6,226.2 L150.8,224.2 L151.0,222.2 L151.2,220.2 L151.4,218.2 L151.6,216.2 L151.8,214.2 L152.0,212.3 L152.2,210.3 L152.4,208.3 L152.6,206.3 L152.8,204.3 L153.0,202.3 L153.2,200.3 L153.4,198.3 L153.6,196.3 L153.8,194.3 L154.0,192.3 L154.2,190.3 L154.4,188.3 L154.6,186.4 L154.8,184.4 L155.0,182.4 L155.2,180.4 L155.3,178.4 L155.5,176.4 L155.7,174.4 L155.9,172.4 L156.0,170.4 L156.2,168.4 L156.4,166.4 L156.5,164.5 L156.7,162.5 L156.8,160.5 L157.0,158.5 L157.1,156.5 L157.3,154.5 L157.4,152.5 L157.6,150.5 L157.8,148.6 L158.1,146.6 L158.3,144.6 L158.6,142.6 L159.0,140.6 L159.3,138.6 L159.7,136.6 L160.0,134.7 L160.4,132.7 L160.7,130.7 L161.1,128.7 L161.4,126.7 L161.7,124.7 L162.0,122.8 L162.3,120.8 L162.6,118.8 L162.9,116.8 L163.2,114.8 L163.5,112.9 L163.7,110.9 L164.0,108.9 L164.3,106.9 L164.6,104.9 L165.0,103.0 L165.3,101.0 L165.6,99.0 L166.0,97.0 L166.3,95.1 L166.7,93.1 L167.1,91.1 L167.5,89.2 L167.9,87.2 L168.3,85.3 L168.7,83.3 L169.1,81.4 L169.5,79.4 L169.9,77.5 L170.4,75.6 L170.8,73.6 L171.3,71.7 L171.9,69.8 L172.4,67.9 L173.0,66.0 L173.7,64.0 L174.4,62.1 L175.1,60.2 L176.0,58.3 L176.9,56.5 L177.9,54.6 L178.9,52.9 L180.1,51.3 L181.3,49.7 L182.7,48.3 L184.1,47.0 L185.7,45.9 L187.4,44.9 L189.1,44.1 L191.0,43.4 L192.9,42.8 L194.9,42.4 L196.9,42.0 L198.9,41.8 L200.9,41.6 L203.0,41.6 L205.0,41.6 L207.0,41.6 L209.1,41.7 L211.1,41.8 L213.1,42.0 L215.1,42.1 L217.1,42.2 L219.1,42.4 L221.1,42.5 L223.1,42.6 L225.1,42.6 L227.1,42.6 L229.1,42.6 L231.1,42.6 L233.1,42.6 L235.1,42.6 L237.1,42.5 L239.0,42.5 L241.0,42.4 L243.0,42.4 L245.0,42.4 L247.0,42.4 L249.0,42.4 L251.0,42.4 L253.0,42.4 L255.0,42.4 L257.1,42.5 L259.1,42.5 L261.1,42.6 L263.1,42.6 L265.1,42.7 L267.1,42.8 L269.1,42.8 L271.1,42.9 L273.1,43.0 L275.1,43.1 L277.1,43.2 L279.1,43.3 L281.1,43.4 L283.1,43.5 L285.1,43.7 L287.1,43.8 L289.1,43.9 L291.1,44.1 L293.1,44.2 L295.1,44.3 L297.1,44.5 L299.1,44.6 L301.1,44.7 L303.1,44.9 L305.1,45.0 L307.1,45.2 L309.1,45.3 L311.1,45.5 L313.1,45.6 L315.1,45.8 L317.1,45.9 L319.1,46.1 L321.1,46.2 L323.1,46.4 L325.1,46.5 L327.0,46.7 L329.0,46.8 L331.0,47.0 L333.0,47.1 L335.0,47.2 L337.0,47.4 L339.0,47.5 L341.0,47.7 L343.0,47.8 L345.0,48.0 L347.0,48.1 L348.9,48.3 L350.9,48.4 L352.9,48.5 L354.9,48.7 L356.9,48.8 L358.9,49.0 L360.9,49.1 L362.9,49.2 L364.9,49.4 L366.9,49.5 L368.9,49.6 L370.9,49.8 L372.9,49.9 L374.9,50.0 L376.9,50.2 L378.9,50.3 L380.9,50.5 L382.9,50.6 L384.9,50.7 L386.9,50.9 L388.9,51.0 L390.9,51.2 L392.9,51.3 L394.9,51.5 L396.9,51.6 L398.9,51.8 L400.9,51.9 L402.9,52.1 L404.9,52.3 L406.9,52.5 L408.9,52.6 L410.9,52.8 L412.9,53.0 L414.9,53.2 L416.9,53.4 L418.9,53.7 L420.9,53.9 L422.9,54.1 L424.9,54.4 L426.9,54.6 L428.9,54.9 L430.9,55.2 L432.9,55.4 L434.8,55.7 L436.8,56.0 L438.8,56.3 L440.8,56.6 L442.8,56.9 L444.7,57.3 L446.7,57.5 L448.7,57.8 L450.6,58.1 L452.6,58.4 L454.5,58.7 L456.5,58.9 L458.4,59.2 L460.4,59.6 L462.3,59.9 L464.3,60.3 L466.2,60.7 L468.2,61.2 L470.1,61.7 L472.0,62.2 L473.9,62.8 L475.9,63.4 L477.8,64.0 L479.7,64.7 L481.6,65.3 L483.5,66.0 L485.4,66.7 L487.3,67.4 L489.2,68.1 L491.1,68.9 L492.9,69.6 L494.8,70.4 L496.7,71.1 L498.5,71.9 L500.4,72.7 L502.3,73.5 L504.1,74.3 L506.0,75.0 L507.8,75.8 L509.7,76.6 L511.5,77.4 L513.3,78.2 L515.2,79.0 L517.0,79.8 L518.8,80.6 L520.7,81.4 L522.5,82.2 L524.3,83.0 L526.1,83.8 L527.9,84.6 L529.7,85.3 L531.6,86.2 L533.4,87.0 L535.2,87.8 L537.0,88.6 L538.8,89.4 L540.6,90.3 L542.4,91.1 L544.2,92.0 L546.0,92.9 L547.8,93.8 L549.6,94.7 L551.4,95.6 L553.2,96.5 L555.0,97.4 L556.8,98.3 L558.6,99.2 L560.4,100.1 L562.3,101.0 L564.1,101.8 L565.9,102.7 L567.8,103.5 L569.6,104.3 L571.5,105.0 L573.3,105.8 L575.2,106.5 L577.1,107.1 L579.0,107.7 L580.9,108.3 L582.8,108.8 L584.8,109.3 L586.7,109.7 L588.7,110.0 L590.6,110.2 L592.6,110.3 L594.6,110.3 L596.6,110.0 L598.6,109.6 L600.6,109.1 L602.5,108.5 L604.4,107.7 L606.2,106.8 L607.9,105.8 L609.6,104.7 L611.2,103.5 L612.7,102.2 L614.2,100.9 L615.6,99.5 L616.9,98.0 L618.3,96.5 L619.6,95.0 L620.8,93.5 L622.1,91.9 L623.3,90.3 L624.5,88.6 L625.6,87.0 L626.8,85.3 L627.9,83.6 L629.0,81.9 L630.0,80.2 L631.1,78.5 L632.1,76.8 L633.2,75.1 L634.2,73.4 L635.2,71.7 L636.3,70.0 L637.3,68.3 L638.3,66.6 L639.4,64.9 L640.4,63.2 L641.4,61.5 L642.5,59.8 L643.5,58.1 L644.6,56.4 L645.7,54.7 L646.9,53.0 L648.0,51.4 L649.3,49.8 L650.6,48.3 L652.0,46.8 L653.5,45.5 L655.1,44.3 L656.8,43.3 L656.8,43.3 L657.9,45.0 L659.0,46.8 L659.8,48.6 L660.6,50.5 L661.2,52.3 L661.8,54.2 L662.3,56.2 L662.7,58.1 L663.0,60.0 L663.3,62.0 L663.6,64.0 L663.9,66.0 L664.1,68.0 L664.4,70.0 L664.6,72.0 L664.8,74.0 L665.1,76.0 L665.3,78.0 L665.5,80.0 L665.8,82.0 L666.0,83.9 L666.3,85.9 L666.5,87.9 L666.8,89.9 L667.1,91.9 L667.3,93.9 L667.6,95.9 L667.8,97.9 L668.1,99.9 L668.3,101.9 L668.5,103.9 L668.8,105.9 L669.0,107.9 L669.2,109.9 L669.5,111.9 L669.7,113.9 L669.9,115.9 L670.1,117.9 L670.3,119.8 L670.5,121.8 L670.7,123.8 L670.9,125.8 L671.1,127.8 L671.3,129.8 L671.5,131.8 L671.7,133.8 L671.9,135.8 L672.1,137.8 L672.3,139.8 L672.5,141.8 L672.7,143.8 L672.9,145.8 L673.1,147.8 L673.3,149.8 L673.5,151.7 L673.8,153.7 L674.0,155.7 L674.2,157.7 L674.4,159.7 L674.6,161.7 L674.8,163.7 L675.1,165.7 L675.3,167.7 L675.5,169.7 L675.8,171.7 L676.0,173.7 L676.2,175.7 L676.5,177.7 L676.7,179.7 L677.0,181.7 L677.2,183.6 L677.4,185.6 L677.7,187.6 L677.9,189.6 L678.2,191.6 L678.4,193.6 L678.6,195.6 L678.9,197.6 L679.1,199.6 L679.3,201.6 L679.6,203.6 L679.8,205.6 L680.0,207.6 L680.3,209.6 L680.5,211.6 L680.7,213.5 L680.9,215.5 L681.1,217.5 L681.3,219.5 L681.5,221.5 L681.7,223.5 L682.0,225.5 L682.2,227.5 L682.4,229.5 L682.5,231.5 L682.7,233.5 L682.9,235.5 L683.1,237.5 L683.3,239.5 L683.5,241.5 L683.7,243.5 L683.9,245.5 L684.1,247.5 L684.3,249.5 L684.5,251.4 L684.7,253.4 L684.9,255.4 L685.1,257.4 L685.3,259.4 L685.5,261.4 L685.7,263.4 L685.9,265.4 L686.1,267.4 L686.3,269.4 L686.5,271.4 L686.7,273.4 L686.9,275.4 L687.1,277.4 L687.3,279.4 L687.5,281.4 L687.8,283.4 L688.0,285.4 L688.2,287.4 L688.5,289.4 L688.7,291.4 L688.9,293.4 L689.1,295.4 L689.4,297.4 L689.6,299.4 L689.8,301.4 L690.1,303.4 L690.3,305.3 L690.5,307.3 L690.8,309.3 L691.0,311.3 L691.2,313.3 L691.4,315.3 L691.7,317.3 L691.9,319.3 L692.1,321.3 L692.3,323.3 L692.5,325.3 L692.7,327.2 L692.9,329.2 L693.1,331.2 L693.4,333.2 L693.6,335.2 L693.8,337.2 L694.0,339.2 L694.2,341.2 L694.5,343.1 L694.7,345.1 L694.9,347.1 L695.2,349.1 L695.4,351.1 L695.7,353.1 L696.0,355.1 L696.2,357.1 L696.5,359.1 L696.8,361.1 L697.1,363.1 L697.4,365.1 L697.8,367.0 L698.1,369.0 L698.5,371.0 L698.9,373.0 L699.3,374.9 L699.8,376.9 L700.2,378.9 L700.7,380.8 L701.2,382.7 L701.7,384.7 L702.3,386.6 L702.9,388.5 L703.5,390.4 L704.1,392.3 L704.8,394.2 L705.5,396.1 L706.2,397.9 L707.0,399.8 L707.8,401.6 L708.6,403.5 L709.5,405.3 L710.4,407.1 L711.4,408.9 L712.4,410.6 L713.4,412.4 L714.5,414.1 L715.6,415.8 L716.7,417.4 L718.0,419.0 L719.2,420.6 L720.5,422.1 L721.9,423.5 L723.3,424.9 L724.8,426.2 L726.3,427.5 L727.9,428.7 L729.5,429.8 L731.2,430.8 L733.0,431.8 L734.7,432.7 L736.6,433.5 L738.4,434.3 L740.3,435.0 L742.2,435.7 L744.2,436.3 L746.1,436.8 L748.1,437.3 L750.0,437.8 L752.0,438.2 L754.0,438.5 L756.0,438.9 L758.0,439.2 L760.0,439.4 L761.9,439.7 L763.9,439.9 L765.9,440.1 L767.9,440.2 L769.9,440.3 L771.9,440.5 L774.0,440.6 L776.0,440.7 L778.0,440.8 L780.0,440.8 L782.0,440.9 L784.0,441.0 L786.0,441.1 L788.0,441.1 L790.0,441.2 L792.0,441.2 L794.0,441.3 L796.0,441.4 L798.0,441.4 L800.0,441.5 L1018.6,441.5 " fill="none" stroke="#22bcbe" stroke-width="7.5" stroke-linejoin="round" stroke-dasharray="4 6"/>
</g>
<g clip-path="url(#cB)">
<path d="M597.5,911.0 L599.4,911.1 L601.3,911.1 L603.3,911.1 L605.3,911.0 L607.4,911.0 L609.4,910.9 L611.5,910.9 L613.6,910.9 L615.7,910.9 L617.7,910.9 L619.8,911.0 L621.9,911.0 L623.9,911.1 L625.9,911.1 L627.9,911.1 L629.9,911.1 L631.7,910.9 L633.5,910.5 L635.2,909.6 L636.7,908.2 L638.1,906.6 L639.4,905.1 L640.9,903.7 L642.4,902.4 L644.2,901.2 L646.1,900.2 L648.0,899.4 L650.0,898.8 L651.9,898.3 L653.9,897.9 L655.9,897.7 L657.8,897.5 L659.8,897.5 L661.8,897.6 L663.7,897.7 L665.7,897.9 L667.7,898.2 L669.7,898.4 L671.6,898.7 L673.6,899.0 L675.6,899.3 L677.6,899.6 L679.6,900.0 L681.6,900.3 L683.6,900.6 L685.6,900.9 L687.6,901.3 L689.5,901.6 L691.5,901.9 L693.5,902.2 L695.5,902.6 L697.5,902.9 L699.5,903.2 L701.5,903.5 L703.5,903.8 L705.5,904.1 L707.5,904.4 L709.5,904.7 L711.5,904.9 L713.5,905.2 L715.5,905.5 L717.5,905.7 L719.5,905.9 L721.5,906.2 L723.5,906.4 L725.5,906.6 L727.5,906.8 L729.5,907.0 L731.5,907.2 L733.5,907.4 L735.6,907.6 L737.6,907.7 L739.6,907.9 L741.6,908.1 L743.6,908.2 L745.6,908.4 L747.6,908.5 L749.6,908.6 L751.6,908.8 L753.6,908.9 L755.6,909.0 L757.6,909.1 L759.6,909.2 L761.6,909.3 L763.6,909.4 L765.6,909.5 L767.6,909.6 L769.6,909.7 L771.6,909.8 L773.7,909.9 L775.7,909.9 L777.7,910.0 L779.7,910.1 L781.7,910.1 L783.7,910.2 L785.7,910.2 L787.7,910.3 L789.7,910.3 L791.7,910.4 L793.7,910.4 L795.8,910.5 L797.8,910.5 L799.8,910.6 L801.8,910.6 L803.8,910.6 L805.8,910.7 L807.8,910.7 L809.8,910.7 L811.9,910.8 L813.9,910.8 L815.9,910.8 L817.9,910.8 L819.9,910.9 L821.9,910.9 L823.9,910.9 L826.0,910.9 L828.0,911.0 L830.0,911.0 " fill="none" stroke="#ee302e" stroke-width="7.5" stroke-linejoin="round"/>
<path d="M558.3,911.0 L560.2,910.8 L562.1,910.7 L564.1,910.7 L566.1,910.6 L568.1,910.7 L570.1,910.8 L572.2,910.9 L574.2,911.0 L576.3,911.1 L578.3,911.2 L580.4,911.3 L582.5,911.3 L584.5,911.4 L586.5,911.3 L588.5,911.3 L590.5,911.1 L592.4,910.9 L594.3,910.4 L596.0,909.6 L597.4,908.4 L598.6,906.8 L599.6,905.0 L600.5,903.1 L601.3,901.2 L602.1,899.3 L602.8,897.5 L603.5,895.6 L604.2,893.7 L604.9,891.9 L605.6,890.1 L606.4,888.2 L607.2,886.4 L608.0,884.6 L608.9,882.9 L609.9,881.1 L610.9,879.4 L612.1,877.7 L613.3,876.1 L614.7,874.5 L616.1,873.0 L617.6,871.6 L619.1,870.3 L620.7,869.0 L622.4,868.0 L624.2,867.0 L626.0,866.2 L627.8,865.6 L629.7,865.2 L631.6,864.9 L633.6,864.8 L635.6,864.9 L637.6,865.1 L639.6,865.4 L641.6,865.8 L643.6,866.2 L645.5,866.8 L647.5,867.4 L649.4,868.1 L651.3,868.8 L653.1,869.6 L655.0,870.4 L656.8,871.2 L658.6,872.1 L660.4,872.9 L662.2,873.8 L664.0,874.7 L665.7,875.6 L667.5,876.5 L669.3,877.4 L671.1,878.3 L672.8,879.2 L674.6,880.0 L676.4,880.9 L678.2,881.8 L679.9,882.7 L681.7,883.6 L683.5,884.4 L685.3,885.3 L687.1,886.2 L688.9,887.1 L690.7,888.1 L692.5,889.0 L694.3,889.9 L696.2,890.8 L698.0,891.7 L699.8,892.6 L701.7,893.5 L703.5,894.3 L705.4,895.1 L707.2,895.9 L709.1,896.7 L711.0,897.4 L712.9,898.0 L714.8,898.6 L716.7,899.2 L718.6,899.7 L720.5,900.2 L722.4,900.7 L724.3,901.1 L726.2,901.6 L728.2,901.9 L730.1,902.3 L732.1,902.7 L734.0,903.0 L736.0,903.3 L737.9,903.6 L739.9,903.9 L741.9,904.2 L743.9,904.4 L745.8,904.7 L747.8,904.9 L749.8,905.1 L751.8,905.3 L753.8,905.5 L755.8,905.7 L757.8,905.9 L759.8,906.1 L761.8,906.2 L763.8,906.4 L765.8,906.5 L767.8,906.7 L769.8,906.8 L771.9,907.0 L773.9,907.1 L775.9,907.2 L777.9,907.4 L779.9,907.5 L781.9,907.6 L783.9,907.7 L786.0,907.8 L788.0,907.9 L790.0,908.0 L792.0,908.1 L794.0,908.2 L796.0,908.3 L798.0,908.4 L800.0,908.5 L802.1,908.6 L804.1,908.7 L806.1,908.8 L808.1,908.9 L810.1,909.0 L812.1,909.1 L814.1,909.1 L816.1,909.2 L818.1,909.3 L820.1,909.4 L822.0,909.5 L824.0,909.6 L826.0,909.6 L828.0,909.7 L830.0,909.8 L832.0,909.9 L834.0,909.9 L836.0,910.0 L838.0,910.1 L840.0,910.1 L842.0,910.2 L843.9,910.3 L845.9,910.3 L847.9,910.4 L849.9,910.4 L851.9,910.5 L853.9,910.5 L855.9,910.6 L857.9,910.6 L859.9,910.7 L861.9,910.7 L863.9,910.8 L865.9,910.8 L867.9,910.8 L869.9,910.9 L871.8,910.9 L873.8,910.9 L875.9,910.9 L877.9,911.0 L879.9,911.0 L881.9,911.0 L883.9,911.0 L885.9,911.0 L887.9,911.0 L889.9,911.0 L891.9,911.0 L893.9,911.0 L896.0,911.0 L898.0,911.0 L900.0,911.0 " fill="none" stroke="#2354a4" stroke-width="7.5" stroke-linejoin="round"/>
<path d="M558.3,911.0 L558.4,909.0 L558.6,907.0 L558.7,905.0 L558.9,903.0 L559.0,901.0 L559.2,899.0 L559.4,897.0 L559.5,895.0 L559.7,893.0 L559.9,891.0 L560.1,889.1 L560.3,887.1 L560.5,885.1 L560.7,883.1 L560.9,881.1 L561.1,879.1 L561.3,877.1 L561.5,875.1 L561.7,873.1 L561.9,871.1 L562.1,869.1 L562.3,867.1 L562.5,865.1 L562.7,863.1 L562.9,861.1 L563.1,859.2 L563.2,857.2 L563.4,855.2 L563.6,853.2 L563.8,851.2 L564.0,849.2 L564.2,847.2 L564.3,845.2 L564.5,843.2 L564.7,841.2 L565.0,839.2 L565.2,837.3 L565.4,835.3 L565.6,833.3 L565.9,831.3 L566.1,829.3 L566.4,827.3 L566.7,825.3 L566.9,823.3 L567.2,821.3 L567.5,819.4 L567.7,817.4 L568.0,815.4 L568.3,813.4 L568.6,811.4 L568.8,809.4 L569.1,807.4 L569.4,805.4 L569.6,803.5 L569.9,801.5 L570.1,799.5 L570.4,797.5 L570.7,795.5 L570.9,793.5 L571.2,791.5 L571.4,789.5 L571.7,787.6 L571.9,785.6 L572.2,783.6 L572.4,781.6 L572.7,779.6 L573.0,777.6 L573.2,775.7 L573.5,773.7 L573.7,771.7 L574.0,769.7 L574.2,767.7 L574.5,765.7 L574.7,763.7 L575.0,761.8 L575.3,759.8 L575.5,757.8 L575.8,755.8 L576.1,753.8 L576.3,751.9 L576.6,749.9 L576.9,747.9 L577.1,745.9 L577.4,743.9 L577.7,741.9 L578.0,740.0 L578.3,738.0 L578.6,736.0 L578.8,734.0 L579.1,732.0 L579.4,730.1 L579.7,728.1 L580.0,726.1 L580.3,724.1 L580.6,722.1 L581.0,720.2 L581.3,718.2 L581.6,716.2 L581.9,714.2 L582.3,712.2 L582.6,710.3 L582.9,708.3 L583.3,706.3 L583.6,704.3 L584.0,702.4 L584.4,700.4 L584.7,698.4 L585.1,696.5 L585.5,694.5 L585.9,692.5 L586.3,690.6 L586.8,688.6 L587.2,686.7 L587.6,684.7 L588.1,682.8 L588.5,680.8 L589.0,678.9 L589.5,676.9 L590.0,675.0 L590.5,673.0 L591.0,671.1 L591.5,669.2 L592.1,667.3 L592.6,665.3 L593.2,663.4 L593.8,661.5 L594.5,659.6 L595.2,657.7 L595.9,655.8 L596.6,653.9 L597.3,652.0 L598.1,650.2 L598.8,648.3 L599.6,646.5 L600.4,644.7 L601.2,642.9 L602.1,641.1 L602.9,639.3 L603.8,637.6 L604.8,635.8 L605.8,634.1 L606.8,632.4 L607.9,630.7 L609.1,629.0 L610.4,627.4 L611.7,625.8 L613.2,624.3 L614.7,623.1 L616.3,621.9 L618.0,621.0 L619.8,620.1 L621.7,619.3 L623.6,618.6 L625.5,618.0 L627.5,617.6 L629.5,617.4 L631.5,617.5 L633.5,617.8 L635.4,618.3 L637.3,618.9 L639.2,619.8 L641.0,620.7 L642.7,621.8 L644.3,623.0 L645.9,624.3 L647.4,625.6 L648.8,627.1 L650.2,628.6 L651.5,630.1 L652.8,631.6 L654.1,633.2 L655.2,634.8 L656.4,636.4 L657.5,638.0 L658.7,639.6 L659.7,641.3 L660.8,642.9 L661.8,644.6 L662.8,646.4 L663.8,648.1 L664.8,649.9 L665.8,651.7 L666.7,653.5 L667.6,655.3 L668.5,657.2 L669.4,659.0 L670.2,660.9 L671.1,662.7 L671.9,664.6 L672.7,666.4 L673.5,668.3 L674.3,670.1 L675.0,672.0 L675.8,673.8 L676.5,675.6 L677.3,677.5 L678.0,679.3 L678.7,681.1 L679.5,683.0 L680.2,684.8 L680.9,686.6 L681.7,688.5 L682.4,690.3 L683.2,692.1 L683.9,694.0 L684.7,695.8 L685.5,697.7 L686.3,699.5 L687.1,701.4 L687.8,703.3 L688.6,705.1 L689.4,707.0 L690.2,708.9 L690.9,710.7 L691.7,712.6 L692.4,714.5 L693.1,716.4 L693.8,718.3 L694.5,720.1 L695.2,722.0 L695.9,723.9 L696.5,725.8 L697.2,727.7 L697.8,729.6 L698.5,731.5 L699.1,733.4 L699.7,735.3 L700.3,737.2 L700.9,739.1 L701.6,741.0 L702.2,742.9 L702.8,744.8 L703.4,746.7 L704.1,748.6 L704.7,750.5 L705.3,752.4 L705.9,754.3 L706.6,756.2 L707.2,758.1 L707.8,760.0 L708.5,761.9 L709.1,763.8 L709.7,765.7 L710.4,767.6 L711.0,769.5 L711.7,771.3 L712.3,773.2 L713.0,775.1 L713.7,777.0 L714.3,778.9 L715.0,780.8 L715.7,782.7 L716.3,784.6 L717.0,786.4 L717.7,788.3 L718.4,790.2 L719.1,792.1 L719.8,793.9 L720.5,795.8 L721.2,797.7 L721.9,799.5 L722.7,801.4 L723.4,803.3 L724.2,805.1 L724.9,807.0 L725.7,808.8 L726.4,810.7 L727.2,812.5 L728.0,814.4 L728.8,816.2 L729.6,818.0 L730.4,819.9 L731.2,821.7 L732.0,823.5 L732.9,825.3 L733.7,827.2 L734.6,829.0 L735.5,830.8 L736.3,832.6 L737.2,834.4 L738.1,836.2 L739.1,838.0 L740.0,839.8 L740.9,841.6 L741.9,843.3 L742.8,845.1 L743.8,846.9 L744.8,848.6 L745.8,850.4 L746.8,852.1 L747.8,853.8 L748.8,855.6 L749.8,857.3 L750.8,858.9 L751.9,860.6 L753.0,862.3 L754.1,863.9 L755.2,865.6 L756.3,867.2 L757.5,868.8 L758.7,870.4 L760.0,872.0 L761.2,873.5 L762.5,875.0 L763.9,876.5 L765.3,878.0 L766.7,879.5 L768.1,880.9 L769.6,882.3 L771.1,883.6 L772.6,884.9 L774.2,886.2 L775.8,887.4 L777.4,888.6 L779.0,889.8 L780.7,890.9 L782.4,891.9 L784.2,892.9 L785.9,893.8 L787.7,894.7 L789.5,895.6 L791.3,896.4 L793.2,897.2 L795.0,898.0 L796.9,898.7 L798.8,899.4 L800.7,900.0 L802.6,900.7 L804.5,901.3 L806.4,901.9 L808.3,902.5 L810.3,903.0 L812.2,903.5 L814.2,904.0 L816.1,904.4 L818.1,904.8 L820.1,905.2 L822.0,905.4 L824.0,905.7 L826.0,905.9 L828.0,906.1 L830.0,906.3 L831.9,906.5 L833.9,906.6 L835.9,906.8 L837.9,906.9 L839.9,907.1 L841.9,907.3 L843.9,907.4 L845.9,907.6 L847.9,907.7 L849.9,907.8 L852.0,908.0 L854.0,908.1 L856.0,908.2 L858.0,908.4 L860.0,908.5 L862.0,908.6 L864.0,908.7 L866.0,908.8 L868.0,909.0 L870.0,909.1 L872.0,909.2 L874.0,909.3 L876.0,909.4 L878.0,909.5 L880.0,909.6 L882.0,909.7 L884.0,909.8 L886.0,909.9 L888.0,909.9 L890.0,910.0 L892.0,910.1 L894.0,910.2 L895.9,910.3 L897.9,910.3 L899.9,910.4 L901.9,910.5 L903.9,910.5 L905.9,910.6 L907.9,910.6 L909.9,910.7 L911.9,910.7 L913.9,910.8 L915.9,910.8 L917.9,910.8 L919.9,910.9 L921.9,910.9 L923.9,910.9 L925.9,911.0 L927.9,911.0 L929.9,911.0 L931.9,911.0 L933.9,911.0 L936.0,911.0 L938.0,911.0 L940.0,911.0 L942.0,911.0 L944.0,911.0 L946.0,911.0 L948.0,911.0 L950.0,911.0 " fill="none" stroke="#231f20" stroke-width="7.5" stroke-linejoin="round"/>
<path d="M97.5,911.0 L515.0,911.0 L520.5,911.0 L520.5,911.0 L520.5,909.0 L520.5,907.0 L520.6,905.0 L520.6,903.0 L520.6,901.0 L520.6,899.0 L520.7,897.0 L520.7,895.0 L520.7,893.0 L520.7,891.0 L520.7,889.0 L520.8,887.0 L520.8,885.0 L520.8,883.0 L520.8,881.0 L520.8,879.0 L520.9,877.0 L520.9,875.0 L520.9,873.0 L520.9,871.0 L520.9,868.9 L521.0,866.9 L521.0,864.9 L521.0,862.9 L521.0,860.9 L521.0,858.9 L521.1,856.9 L521.1,854.9 L521.1,852.9 L521.1,850.9 L521.1,848.9 L521.2,846.9 L521.2,844.9 L521.2,842.9 L521.2,840.9 L521.2,838.9 L521.2,836.9 L521.3,834.9 L521.3,832.9 L521.3,830.9 L521.3,828.9 L521.3,826.9 L521.4,824.9 L521.4,822.9 L521.4,820.9 L521.4,818.9 L521.4,816.9 L521.4,814.9 L521.5,812.9 L521.5,810.9 L521.5,808.9 L521.5,806.9 L521.5,804.9 L521.5,802.9 L521.5,800.9 L521.6,798.9 L521.6,796.9 L521.6,794.8 L521.6,792.8 L521.6,790.8 L521.6,788.8 L521.6,786.8 L521.7,784.8 L521.7,782.8 L521.7,780.8 L521.7,778.8 L521.7,776.8 L521.7,774.8 L521.7,772.8 L521.8,770.8 L521.8,768.8 L521.8,766.8 L521.8,764.8 L521.8,762.8 L521.8,760.8 L521.8,758.8 L521.9,756.8 L521.9,754.8 L521.9,752.8 L521.9,750.8 L521.9,748.8 L521.9,746.8 L521.9,744.8 L521.9,742.8 L521.9,740.8 L522.0,738.8 L522.0,736.8 L522.0,734.8 L522.0,732.8 L522.0,730.8 L522.0,728.8 L522.0,726.7 L522.0,724.7 L522.0,722.7 L522.1,720.7 L522.1,718.7 L522.1,716.7 L522.1,714.7 L522.1,712.7 L522.1,710.7 L522.1,708.7 L522.1,706.7 L522.1,704.7 L522.2,702.7 L522.2,700.7 L522.2,698.7 L522.2,696.7 L522.2,694.7 L522.2,692.7 L522.2,690.7 L522.2,688.7 L522.2,686.7 L522.2,684.7 L522.2,682.7 L522.3,680.7 L522.3,678.7 L522.3,676.7 L522.3,674.7 L522.3,672.7 L522.3,670.7 L522.3,668.7 L522.3,666.7 L522.3,664.7 L522.4,662.7 L522.4,660.7 L522.4,658.7 L522.4,656.6 L522.4,654.6 L522.4,652.6 L522.4,650.6 L522.4,648.6 L522.5,646.6 L522.5,644.6 L522.5,642.6 L522.5,640.6 L522.5,638.6 L522.5,636.6 L522.6,634.6 L522.6,632.6 L522.6,630.6 L522.6,628.6 L522.6,626.6 L522.6,624.6 L522.7,622.6 L522.7,620.6 L522.7,618.6 L522.7,616.6 L522.8,614.6 L522.8,612.6 L522.8,610.6 L522.8,608.6 L522.9,606.6 L522.9,604.6 L522.9,602.6 L522.9,600.6 L523.0,598.6 L523.0,596.6 L523.0,594.6 L523.1,592.6 L523.1,590.6 L523.1,588.6 L523.2,586.6 L523.2,584.6 L523.2,582.6 L523.3,580.6 L523.3,578.6 L523.3,576.6 L523.4,574.6 L523.4,572.5 L523.5,570.5 L523.5,568.5 L523.6,566.5 L523.6,564.5 L523.7,562.5 L523.7,560.5 L523.8,558.5 L523.8,556.5 L523.9,554.5 L523.9,552.5 L524.0,550.5 L524.0,548.5 L524.1,546.5 L524.2,544.5 L524.2,542.5 L524.3,540.5 L524.3,538.5 L524.4,536.5 L524.5,534.5 L524.6,532.5 L524.6,530.5 L524.7,528.5 L524.8,526.5 L524.9,524.5 L524.9,522.5 L525.0,520.5 L525.1,518.5 L525.2,516.5 L525.2,516.5 L526.5,515.0 L528.0,513.3 L529.5,511.9 L530.9,511.6 L532.1,512.6 L533.1,514.4 L533.9,516.6 L534.7,518.6 L535.4,520.5 L536.1,522.3 L536.9,524.1 L537.7,525.9 L538.7,527.7 L539.6,529.4 L540.6,531.2 L541.6,533.0 L542.6,534.7 L543.6,536.5 L544.5,538.2 L545.4,540.0 L546.2,541.8 L547.1,543.5 L548.0,545.3 L548.9,547.1 L549.9,548.8 L551.0,550.5 L552.2,552.3 L553.4,554.0 L554.5,555.7 L555.7,557.4 L556.8,559.0 L557.8,560.7 L558.8,562.3 L559.9,563.9 L561.1,565.5 L562.3,567.0 L563.6,568.6 L565.0,570.0 L566.4,571.5 L567.8,572.9 L569.3,574.3 L570.8,575.7 L572.4,577.0 L573.9,578.3 L575.5,579.5 L577.1,580.7 L578.7,581.9 L580.4,583.1 L582.0,584.2 L583.7,585.3 L585.4,586.3 L587.1,587.3 L588.8,588.3 L590.5,589.3 L592.3,590.3 L594.0,591.2 L595.8,592.1 L597.6,593.0 L599.4,593.9 L601.2,594.8 L603.1,595.6 L604.9,596.4 L606.8,597.3 L608.6,598.1 L610.5,598.8 L612.4,599.6 L614.3,600.3 L616.2,600.9 L618.1,601.5 L620.0,602.0 L622.0,602.5 L623.9,602.9 L625.9,603.3 L627.8,603.5 L629.8,603.7 L631.8,603.9 L633.7,604.0 L635.7,604.2 L637.7,604.5 L639.7,604.8 L641.7,605.1 L643.7,605.5 L645.7,605.7 L647.7,605.9 L649.7,606.1 L651.7,606.2 L653.8,606.2 L655.8,606.2 L657.8,606.1 L659.8,606.1 L661.8,606.0 L663.8,605.9 L665.9,605.7 L667.9,605.6 L669.9,605.5 L671.9,605.3 L673.9,605.2 L675.9,605.1 L677.9,604.9 L679.9,604.7 L681.9,604.5 L683.8,604.3 L685.8,604.0 L687.8,603.7 L689.7,603.4 L691.7,603.0 L693.6,602.5 L695.5,602.0 L697.4,601.5 L699.3,600.9 L701.2,600.2 L703.1,599.5 L705.0,598.8 L706.8,597.9 L708.6,597.1 L710.4,596.2 L712.2,595.2 L713.9,594.2 L715.6,593.1 L717.3,592.0 L719.0,590.8 L720.6,589.6 L722.2,588.4 L723.8,587.1 L725.3,585.8 L726.8,584.5 L728.3,583.1 L729.8,581.8 L731.2,580.4 L732.6,578.9 L733.9,577.5 L735.3,576.0 L736.7,574.5 L738.0,573.1 L739.3,571.6 L740.6,570.1 L741.9,568.6 L743.3,567.1 L744.6,565.6 L745.9,564.1 L747.2,562.6 L748.5,561.0 L749.8,559.5 L751.1,558.0 L752.4,556.4 L753.6,554.9 L754.9,553.3 L756.1,551.7 L757.2,550.1 L758.4,548.4 L759.5,546.7 L760.6,545.0 L761.6,543.3 L762.7,541.6 L763.7,539.8 L764.7,538.1 L765.7,536.3 L766.7,534.6 L767.8,532.8 L768.8,531.1 L769.9,529.4 L770.9,527.7 L772.1,526.1 L773.2,524.4 L774.4,522.8 L775.6,521.3 L776.9,519.8 L778.3,518.4 L779.7,517.0 L781.1,515.6 L782.7,514.4 L784.3,513.2 L786.0,512.0 L787.8,511.0 L787.8,511.0 L789.5,512.4 L790.9,513.9 L792.3,515.4 L793.4,517.0 L794.5,518.7 L795.4,520.4 L796.2,522.1 L797.0,523.9 L797.6,525.7 L798.2,527.6 L798.8,529.5 L799.3,531.4 L799.7,533.3 L800.1,535.3 L800.5,537.3 L800.9,539.3 L801.2,541.3 L801.5,543.3 L801.8,545.3 L802.1,547.3 L802.5,549.3 L802.8,551.3 L803.1,553.3 L803.4,555.3 L803.7,557.2 L804.0,559.2 L804.2,561.2 L804.5,563.2 L804.8,565.2 L805.1,567.2 L805.4,569.2 L805.7,571.2 L805.9,573.1 L806.2,575.1 L806.5,577.1 L806.8,579.1 L807.0,581.1 L807.3,583.0 L807.6,585.0 L807.9,587.0 L808.1,589.0 L808.4,591.0 L808.7,592.9 L808.9,594.9 L809.2,596.9 L809.5,598.9 L809.8,600.9 L810.0,602.8 L810.3,604.8 L810.6,606.8 L810.9,608.8 L811.1,610.7 L811.4,612.7 L811.7,614.7 L812.0,616.7 L812.2,618.7 L812.5,620.6 L812.8,622.6 L813.1,624.6 L813.4,626.6 L813.7,628.5 L814.0,630.5 L814.3,632.5 L814.6,634.5 L814.9,636.5 L815.2,638.4 L815.5,640.4 L815.8,642.4 L816.1,644.4 L816.4,646.4 L816.7,648.3 L817.0,650.3 L817.3,652.3 L817.7,654.3 L818.0,656.3 L818.3,658.2 L818.6,660.2 L818.9,662.2 L819.2,664.2 L819.6,666.2 L819.9,668.2 L820.2,670.1 L820.5,672.1 L820.8,674.1 L821.1,676.1 L821.4,678.1 L821.8,680.1 L822.1,682.1 L822.4,684.0 L822.7,686.0 L823.0,688.0 L823.2,690.0 L823.5,692.0 L823.8,694.0 L824.1,696.0 L824.4,697.9 L824.7,699.9 L824.9,701.9 L825.2,703.9 L825.4,705.9 L825.7,707.9 L825.9,709.9 L826.2,711.8 L826.4,713.8 L826.6,715.8 L826.8,717.8 L827.0,719.8 L827.2,721.8 L827.3,723.8 L827.5,725.8 L827.6,727.7 L827.8,729.7 L827.9,731.7 L828.0,733.7 L828.1,735.7 L828.2,737.7 L828.3,739.7 L828.4,741.7 L828.5,743.6 L828.7,745.6 L828.9,747.6 L829.0,749.6 L829.2,751.6 L829.5,753.6 L829.7,755.6 L829.9,757.6 L830.2,759.5 L830.5,761.5 L830.7,763.5 L831.0,765.5 L831.3,767.5 L831.6,769.5 L831.9,771.5 L832.2,773.5 L832.5,775.4 L832.8,777.4 L833.1,779.4 L833.4,781.4 L833.7,783.4 L834.1,785.4 L834.4,787.3 L834.7,789.3 L835.0,791.3 L835.4,793.3 L835.7,795.3 L836.1,797.2 L836.4,799.2 L836.7,801.2 L837.1,803.2 L837.4,805.1 L837.8,807.1 L838.2,809.1 L838.5,811.0 L838.9,813.0 L839.2,815.0 L839.6,816.9 L840.0,818.9 L840.3,820.9 L840.7,822.8 L841.1,824.8 L841.5,826.7 L841.9,828.7 L842.3,830.6 L842.8,832.6 L843.2,834.5 L843.7,836.5 L844.1,838.4 L844.6,840.3 L845.1,842.3 L845.7,844.2 L846.2,846.1 L846.8,848.0 L847.4,850.0 L848.0,851.9 L848.6,853.8 L849.3,855.7 L850.0,857.6 L850.7,859.5 L851.4,861.4 L852.2,863.3 L853.0,865.1 L853.8,867.0 L854.7,868.8 L855.5,870.6 L856.5,872.4 L857.4,874.2 L858.4,875.9 L859.4,877.6 L860.4,879.3 L861.5,881.0 L862.6,882.6 L863.8,884.2 L865.0,885.8 L866.3,887.3 L867.7,888.8 L869.0,890.3 L870.5,891.7 L871.9,893.1 L873.4,894.4 L875.0,895.6 L876.6,896.8 L878.3,898.0 L879.9,899.0 L881.7,900.0 L883.4,900.9 L885.2,901.8 L887.0,902.5 L888.9,903.2 L890.8,903.8 L892.7,904.4 L894.6,904.9 L896.6,905.3 L898.5,905.7 L900.5,906.0 L902.5,906.3 L904.5,906.6 L906.6,906.8 L908.6,907.0 L910.6,907.2 L912.6,907.4 L914.6,907.6 L916.6,907.8 L918.7,907.9 L920.7,908.1 L922.7,908.2 L924.7,908.4 L926.7,908.5 L928.6,908.6 L930.6,908.7 L932.6,908.9 L934.6,909.0 L936.6,909.1 L938.6,909.2 L940.6,909.3 L942.6,909.4 L944.6,909.5 L946.5,909.6 L948.5,909.7 L950.5,909.8 L952.5,909.9 L954.5,909.9 L956.5,910.0 L958.5,910.1 L960.5,910.2 L962.5,910.2 L964.5,910.3 L966.5,910.4 L968.5,910.4 L970.5,910.5 L972.5,910.6 L974.5,910.6 L976.5,910.7 L978.5,910.7 L980.5,910.8 L982.5,910.8 L984.6,910.8 L986.6,910.9 L988.6,910.9 L990.6,910.9 L992.6,911.0 L994.6,911.0 L996.6,911.0 L998.6,911.0 L1000.6,911.0 L1002.6,911.1 L1004.6,911.1 L1006.6,911.1 L1008.6,911.1 L1010.6,911.1 L1012.6,911.0 L1014.6,911.0 L1016.6,911.0 L1018.6,911.0 " fill="none" stroke="#8c449e" stroke-width="7.5" stroke-linejoin="round" stroke-dasharray="4 6"/>
<path d="M97.5,911.0 L470.0,911.0 L482.3,911.0 L482.3,911.0 L482.4,909.0 L482.4,907.0 L482.5,905.0 L482.5,903.0 L482.6,901.0 L482.6,899.0 L482.7,897.0 L482.7,895.0 L482.8,893.0 L482.8,891.0 L482.9,889.0 L483.0,887.0 L483.0,885.0 L483.1,883.0 L483.2,881.0 L483.2,879.0 L483.3,877.0 L483.3,875.0 L483.4,873.0 L483.5,871.0 L483.5,869.0 L483.6,867.0 L483.7,864.9 L483.8,862.9 L483.8,860.9 L483.9,858.9 L484.0,856.9 L484.0,854.9 L484.1,852.9 L484.2,850.9 L484.3,848.9 L484.3,846.9 L484.4,844.9 L484.5,842.9 L484.6,840.9 L484.7,838.9 L484.7,836.9 L484.8,834.9 L484.9,832.9 L485.0,830.9 L485.1,828.9 L485.2,826.9 L485.2,824.9 L485.3,822.9 L485.4,820.9 L485.5,818.9 L485.6,816.9 L485.7,814.9 L485.8,812.9 L485.9,810.9 L486.0,808.9 L486.1,806.9 L486.2,804.9 L486.3,802.9 L486.4,800.9 L486.5,798.9 L486.6,796.9 L486.7,794.9 L486.8,792.9 L486.9,790.9 L487.0,788.9 L487.1,786.9 L487.2,784.9 L487.4,782.9 L487.5,780.9 L487.6,778.9 L487.7,776.9 L487.9,774.9 L488.0,772.9 L488.2,770.9 L488.3,768.9 L488.5,766.9 L488.6,764.9 L488.8,762.9 L488.9,760.9 L489.1,758.9 L489.3,756.9 L489.5,754.9 L489.7,752.9 L489.9,750.9 L490.1,748.9 L490.3,746.9 L490.5,744.9 L490.7,742.9 L491.0,741.0 L491.2,739.0 L491.5,737.0 L491.8,735.0 L492.2,733.0 L492.5,731.1 L492.9,729.1 L493.4,727.1 L493.8,725.2 L494.3,723.3 L494.8,721.3 L495.4,719.4 L496.0,717.5 L496.7,715.6 L497.3,713.8 L498.1,711.9 L498.8,710.1 L499.6,708.2 L500.5,706.4 L501.4,704.6 L502.3,702.8 L503.3,701.1 L504.3,699.4 L505.3,697.6 L506.4,695.9 L507.5,694.3 L508.7,692.6 L509.8,691.0 L511.0,689.3 L512.3,687.7 L513.5,686.2 L514.8,684.6 L516.1,683.1 L517.5,681.6 L518.8,680.1 L520.2,678.6 L521.6,677.2 L523.0,675.8 L524.4,674.4 L525.9,673.1 L527.4,671.7 L528.8,670.4 L530.3,669.1 L531.8,667.8 L533.3,666.5 L534.8,665.2 L536.4,663.9 L537.9,662.6 L539.4,661.4 L541.0,660.1 L542.5,658.8 L544.1,657.5 L545.6,656.2 L547.1,654.9 L548.7,653.7 L550.2,652.4 L551.8,651.1 L553.3,649.8 L554.9,648.5 L556.5,647.2 L558.0,645.9 L559.6,644.6 L561.2,643.4 L562.7,642.1 L564.3,640.9 L565.9,639.6 L567.5,638.4 L569.1,637.2 L570.7,636.0 L572.3,634.8 L574.0,633.6 L575.6,632.4 L577.2,631.3 L578.9,630.2 L580.5,629.1 L582.2,628.0 L583.8,626.9 L585.5,625.9 L587.2,624.9 L588.9,623.9 L590.6,622.9 L592.3,621.9 L594.0,621.0 L595.8,620.0 L597.5,619.1 L599.3,618.1 L601.0,617.2 L602.8,616.2 L604.6,615.3 L606.3,614.3 L608.1,613.4 L609.9,612.5 L611.7,611.6 L613.6,610.6 L615.4,609.7 L617.2,608.9 L619.1,608.0 L620.9,607.2 L622.8,606.3 L624.6,605.6 L626.5,604.8 L628.4,604.1 L630.3,603.4 L632.2,602.7 L634.1,602.1 L636.0,601.5 L637.9,600.9 L639.8,600.3 L641.8,599.8 L643.7,599.3 L645.6,598.9 L647.6,598.4 L649.6,598.0 L651.5,597.7 L653.5,597.4 L655.4,597.1 L657.4,596.8 L659.4,596.6 L661.4,596.4 L663.3,596.2 L665.3,596.0 L667.3,595.9 L669.3,595.9 L671.3,595.8 L673.3,595.8 L675.3,595.8 L677.3,595.9 L679.3,596.0 L681.3,596.1 L683.3,596.2 L685.3,596.4 L687.3,596.6 L689.3,596.8 L691.3,597.1 L693.3,597.3 L695.2,597.6 L697.2,598.0 L699.2,598.3 L701.2,598.7 L703.1,599.1 L705.1,599.6 L707.1,600.0 L709.0,600.5 L711.0,601.0 L712.9,601.6 L714.8,602.1 L716.7,602.7 L718.7,603.3 L720.6,603.9 L722.5,604.6 L724.4,605.3 L726.2,605.9 L728.1,606.6 L730.0,607.4 L731.9,608.1 L733.7,608.9 L735.6,609.7 L737.4,610.5 L739.2,611.3 L741.0,612.1 L742.9,613.0 L744.7,613.8 L746.5,614.7 L748.3,615.6 L750.0,616.5 L751.8,617.4 L753.6,618.4 L755.3,619.3 L757.1,620.3 L758.8,621.3 L760.6,622.2 L762.3,623.2 L764.0,624.2 L765.8,625.2 L767.5,626.3 L769.2,627.3 L770.9,628.3 L772.6,629.4 L774.3,630.4 L776.0,631.5 L777.7,632.5 L779.4,633.6 L781.0,634.7 L782.7,635.8 L784.4,636.9 L786.1,638.0 L787.7,639.1 L789.4,640.2 L791.1,641.3 L792.8,642.4 L794.4,643.5 L796.1,644.6 L797.8,645.7 L799.4,646.8 L801.1,647.9 L802.8,649.1 L804.5,650.2 L806.1,651.3 L807.8,652.4 L809.5,653.5 L811.2,654.6 L812.9,655.6 L814.6,656.7 L816.3,657.7 L818.1,658.7 L819.8,659.7 L821.6,660.7 L823.4,661.6 L825.2,662.5 L827.0,663.4 L828.8,664.2 L830.7,664.9 L832.6,665.6 L834.5,666.1 L836.4,666.6 L838.4,667.0 L840.4,667.3 L842.4,667.5 L844.4,667.6 L846.4,667.6 L848.4,667.5 L850.4,667.2 L852.3,666.8 L854.2,666.3 L856.1,665.6 L857.9,664.8 L859.6,663.9 L861.3,662.8 L862.9,661.6 L864.4,660.4 L865.9,659.0 L867.3,657.6 L868.7,656.1 L870.0,654.5 L871.3,652.9 L872.5,651.3 L873.6,649.6 L874.7,647.9 L875.8,646.2 L876.8,644.4 L877.8,642.7 L878.7,640.9 L879.7,639.1 L880.6,637.3 L881.4,635.5 L882.3,633.7 L883.1,631.8 L883.9,630.0 L884.6,628.2 L885.4,626.3 L886.1,624.5 L886.8,622.6 L887.5,620.7 L888.2,618.9 L888.8,617.0 L889.4,615.1 L890.0,613.2 L890.6,611.3 L891.2,609.4 L891.8,607.5 L892.3,605.6 L892.9,603.6 L893.4,601.7 L893.9,599.8 L894.4,597.8 L894.9,595.9 L895.4,594.0 L895.9,592.0 L896.3,590.0 L896.8,588.1 L897.3,586.1 L897.7,584.2 L898.2,582.2 L898.6,580.2 L899.0,578.3 L899.5,576.3 L899.9,574.3 L900.3,572.4 L900.7,570.4 L901.1,568.4 L901.5,566.4 L901.9,564.5 L902.3,562.5 L902.8,560.5 L903.2,558.6 L903.6,556.6 L904.0,554.6 L904.4,552.7 L904.8,550.7 L905.2,548.7 L905.6,546.8 L906.0,544.8 L906.4,542.9 L906.8,540.9 L907.3,539.0 L907.7,537.0 L908.1,535.1 L908.6,533.2 L909.0,531.3 L909.5,529.3 L909.9,527.4 L910.4,525.5 L911.0,523.6 L911.5,521.7 L912.1,519.8 L912.8,518.0 L913.5,516.1 L914.3,514.2 L915.2,512.4 L916.2,510.5 L916.2,510.5 L917.5,512.3 L918.6,514.0 L919.6,515.8 L920.4,517.6 L921.1,519.5 L921.7,521.3 L922.2,523.2 L922.6,525.1 L922.9,527.0 L923.2,529.0 L923.5,530.9 L923.7,532.8 L923.9,534.8 L924.1,536.8 L924.3,538.8 L924.6,540.8 L924.8,542.8 L925.0,544.8 L925.2,546.8 L925.4,548.8 L925.6,550.8 L925.8,552.8 L926.0,554.9 L926.2,556.9 L926.4,558.9 L926.5,560.9 L926.7,563.0 L926.9,565.0 L927.0,567.0 L927.2,569.0 L927.4,571.0 L927.5,573.0 L927.7,575.0 L927.8,577.0 L928.0,579.0 L928.1,581.0 L928.2,583.0 L928.4,585.0 L928.5,587.0 L928.7,589.0 L928.8,591.0 L928.9,593.0 L929.1,595.0 L929.2,597.0 L929.3,599.0 L929.5,601.0 L929.6,603.0 L929.7,605.0 L929.9,607.0 L930.0,609.0 L930.2,611.0 L930.3,613.0 L930.5,615.0 L930.6,617.0 L930.8,618.9 L930.9,620.9 L931.1,622.9 L931.2,624.9 L931.4,626.9 L931.6,628.9 L931.8,630.9 L931.9,632.9 L932.1,634.9 L932.3,636.9 L932.5,638.9 L932.7,640.9 L932.8,642.9 L933.0,644.9 L933.2,646.9 L933.4,648.9 L933.6,650.9 L933.8,652.9 L934.0,654.9 L934.2,656.9 L934.3,658.9 L934.5,660.9 L934.7,662.9 L934.9,664.9 L935.1,666.9 L935.3,668.9 L935.5,670.9 L935.6,672.9 L935.8,674.9 L936.0,676.9 L936.2,678.9 L936.3,680.9 L936.5,682.9 L936.7,685.0 L936.8,687.0 L937.0,689.0 L937.1,691.0 L937.3,693.0 L937.5,695.0 L937.6,697.0 L937.8,699.0 L937.9,701.0 L938.1,703.0 L938.2,705.0 L938.3,707.0 L938.5,709.0 L938.6,711.0 L938.8,713.0 L938.9,715.0 L939.1,717.0 L939.2,719.0 L939.3,721.0 L939.5,723.0 L939.6,725.0 L939.8,727.0 L939.9,729.0 L940.0,731.0 L940.2,733.0 L940.3,735.0 L940.5,737.0 L940.6,739.0 L940.8,741.0 L940.9,743.0 L941.0,745.0 L941.2,747.0 L941.3,749.0 L941.5,751.0 L941.7,753.0 L941.8,755.0 L942.0,757.0 L942.2,759.0 L942.3,761.0 L942.5,763.0 L942.7,764.9 L942.9,766.9 L943.1,768.9 L943.2,770.9 L943.4,772.9 L943.7,774.9 L943.9,776.9 L944.1,778.9 L944.3,780.9 L944.5,782.9 L944.8,784.9 L945.0,786.9 L945.3,788.8 L945.5,790.8 L945.8,792.8 L946.1,794.8 L946.3,796.8 L946.6,798.8 L946.9,800.8 L947.2,802.8 L947.5,804.7 L947.8,806.7 L948.1,808.7 L948.4,810.7 L948.7,812.7 L949.1,814.7 L949.4,816.7 L949.7,818.6 L950.1,820.6 L950.4,822.6 L950.8,824.6 L951.1,826.6 L951.5,828.6 L951.8,830.5 L952.2,832.5 L952.5,834.5 L952.9,836.5 L953.3,838.5 L953.7,840.5 L954.0,842.4 L954.4,844.4 L954.8,846.4 L955.2,848.4 L955.6,850.4 L956.0,852.3 L956.4,854.3 L956.8,856.3 L957.2,858.2 L957.7,860.2 L958.2,862.1 L958.7,864.1 L959.2,866.0 L959.8,867.9 L960.4,869.8 L961.0,871.7 L961.7,873.6 L962.4,875.4 L963.2,877.3 L964.0,879.1 L964.8,880.9 L965.8,882.7 L966.8,884.4 L967.8,886.1 L968.9,887.8 L970.1,889.5 L971.3,891.1 L972.6,892.6 L974.0,894.1 L975.4,895.6 L976.8,896.9 L978.4,898.2 L980.0,899.4 L981.6,900.4 L983.3,901.4 L985.1,902.4 L986.9,903.2 L988.8,903.9 L990.7,904.6 L992.6,905.2 L994.6,905.7 L996.5,906.2 L998.5,906.5 L1000.5,906.8 L1002.6,907.1 L1004.6,907.3 L1006.6,907.5 L1008.7,907.6 L1010.7,907.7 L1012.7,907.8 L1014.7,907.9 L1016.7,907.9 L1018.6,908.0 " fill="none" stroke="#22bcbe" stroke-width="7.5" stroke-linejoin="round" stroke-dasharray="4 6"/>
</g>
<rect x="97.5" y="2.25" width="921.1" height="439.25" fill="none" stroke="#231f20" stroke-width="4.6"/>
<rect x="97.5" y="472.25" width="921.1" height="438.75" fill="none" stroke="#231f20" stroke-width="4.6"/>
<line x1="97.5" y1="441.5" x2="97.5" y2="454.8" stroke="#231f20" stroke-width="4.9" stroke-linecap="butt"/>
<line x1="97.5" y1="911" x2="97.5" y2="923.8" stroke="#231f20" stroke-width="4.9" stroke-linecap="butt"/>
<line x1="251.0" y1="441.5" x2="251.0" y2="454.8" stroke="#231f20" stroke-width="4.9" stroke-linecap="butt"/>
<line x1="251.0" y1="911" x2="251.0" y2="923.8" stroke="#231f20" stroke-width="4.9" stroke-linecap="butt"/>
<line x1="404.4" y1="441.5" x2="404.4" y2="454.8" stroke="#231f20" stroke-width="4.9" stroke-linecap="butt"/>
<line x1="404.4" y1="911" x2="404.4" y2="923.8" stroke="#231f20" stroke-width="4.9" stroke-linecap="butt"/>
<line x1="558.1" y1="441.5" x2="558.1" y2="454.8" stroke="#231f20" stroke-width="4.9" stroke-linecap="butt"/>
<line x1="558.1" y1="911" x2="558.1" y2="923.8" stroke="#231f20" stroke-width="4.9" stroke-linecap="butt"/>
<line x1="711.6" y1="441.5" x2="711.6" y2="454.8" stroke="#231f20" stroke-width="4.9" stroke-linecap="butt"/>
<line x1="711.6" y1="911" x2="711.6" y2="923.8" stroke="#231f20" stroke-width="4.9" stroke-linecap="butt"/>
<line x1="865.2" y1="441.5" x2="865.2" y2="454.8" stroke="#231f20" stroke-width="4.9" stroke-linecap="butt"/>
<line x1="865.2" y1="911" x2="865.2" y2="923.8" stroke="#231f20" stroke-width="4.9" stroke-linecap="butt"/>
<line x1="1018.6" y1="441.5" x2="1018.6" y2="454.8" stroke="#231f20" stroke-width="4.9" stroke-linecap="butt"/>
<line x1="1018.6" y1="911" x2="1018.6" y2="923.8" stroke="#231f20" stroke-width="4.9" stroke-linecap="butt"/>
<line x1="89" y1="42.4" x2="97.5" y2="42.4" stroke="#231f20" stroke-width="4.6" stroke-linecap="butt"/>
<line x1="89" y1="142.2" x2="97.5" y2="142.2" stroke="#231f20" stroke-width="4.6" stroke-linecap="butt"/>
<line x1="89" y1="242.1" x2="97.5" y2="242.1" stroke="#231f20" stroke-width="4.6" stroke-linecap="butt"/>
<line x1="89" y1="341.9" x2="97.5" y2="341.9" stroke="#231f20" stroke-width="4.6" stroke-linecap="butt"/>
<line x1="89" y1="441.6" x2="97.5" y2="441.6" stroke="#231f20" stroke-width="4.6" stroke-linecap="butt"/>
<line x1="89" y1="511.7" x2="97.5" y2="511.7" stroke="#231f20" stroke-width="4.6" stroke-linecap="butt"/>
<line x1="89" y1="611.6" x2="97.5" y2="611.6" stroke="#231f20" stroke-width="4.6" stroke-linecap="butt"/>
<line x1="89" y1="711.5" x2="97.5" y2="711.5" stroke="#231f20" stroke-width="4.6" stroke-linecap="butt"/>
<line x1="89" y1="811.1" x2="97.5" y2="811.1" stroke="#231f20" stroke-width="4.6" stroke-linecap="butt"/>
<line x1="89" y1="910.8" x2="97.5" y2="910.8" stroke="#231f20" stroke-width="4.6" stroke-linecap="butt"/>
<text transform="translate(43.09,52.80) scale(0.833,1)" font-size="39.30" font-weight="bold">1.0</text>
<text transform="translate(42.92,253.00) scale(0.833,1)" font-size="39.30" font-weight="bold">0.5</text>
<text transform="translate(42.59,450.80) scale(0.833,1)" font-size="39.30" font-weight="bold">0.0</text>
<text transform="translate(43.09,522.80) scale(0.833,1)" font-size="39.30" font-weight="bold">1.0</text>
<text transform="translate(42.92,721.80) scale(0.833,1)" font-size="39.30" font-weight="bold">0.5</text>
<text transform="translate(42.59,921.80) scale(0.833,1)" font-size="39.30" font-weight="bold">0.0</text>
<text transform="translate(90.26,956.40) scale(0.820,1)" font-size="39.50" font-weight="bold">–8</text>
<text transform="translate(236.76,956.00) scale(0.820,1)" font-size="39.50" font-weight="bold">–6</text>
<text transform="translate(388.36,956.10) scale(0.820,1)" font-size="39.50" font-weight="bold">–4</text>
<text transform="translate(535.66,957.10) scale(0.820,1)" font-size="39.50" font-weight="bold">–2</text>
<text transform="translate(704.90,955.80) scale(0.820,1)" font-size="39.50" font-weight="bold">0</text>
<text transform="translate(857.90,958.00) scale(0.820,1)" font-size="39.50" font-weight="bold">2</text>
<text transform="translate(1010.51,954.70) scale(0.820,1)" font-size="39.50" font-weight="bold">4</text>
<text transform="translate(947.69,386.58) scale(0.860,1)" font-size="57.22" font-weight="bold">(a)</text>
<text transform="translate(947.37,557.65) scale(0.870,1)" font-size="56.89" font-weight="bold">(b)</text>
<text transform="translate(28.20,410.50) scale(0.854,1) rotate(-90)" font-size="49.4" font-weight="bold">Transmission T</text>
<text transform="translate(30.20,880.10) scale(0.854,1) rotate(-90)" font-size="49.4" font-weight="bold">Transmission T</text>
<line x1="14.8" y1="76.3" x2="30.6" y2="76.3" stroke="#000" stroke-width="2.6" stroke-linecap="butt"/>
<line x1="22.6" y1="66.3" x2="22.6" y2="85.9" stroke="#000" stroke-width="2.5" stroke-linecap="butt"/>
<line x1="32.35" y1="533.2" x2="32.35" y2="551.8" stroke="#000" stroke-width="2.3" stroke-linecap="butt"/>
<text x="0" y="0" font-size="51" transform="translate(476.8,1008) scale(0.826,1)">q (1/L</text>
<text font-size="40" font-weight="bold" transform="translate(581,1019) scale(0.81,1)">B0</text>
<text font-size="51" transform="translate(624.2,1008) scale(0.826,1)">)</text>
<text transform="translate(826.65,63.20) scale(0.856,1)" font-size="50.4" font-weight="bold">E = 1.0</text>
<rect x="761.7" y="48.1" width="55.4" height="7.6" fill="#ee302e"/>
<text transform="translate(827.35,120.10) scale(0.856,1)" font-size="50.4" font-weight="bold">E = 1.5</text>
<rect x="761.7" y="103.2" width="55.4" height="7.6" fill="#2354a4"/>
<text transform="translate(827.95,174.20) scale(0.856,1)" font-size="50.4" font-weight="bold">E = 2.0</text>
<rect x="761.7" y="159.0" width="55.4" height="7.6" fill="#231f20"/>
<text transform="translate(829.55,230.30) scale(0.856,1)" font-size="50.4" font-weight="bold">E = 2.5</text>
<rect x="765.2" y="214.3" width="4" height="7.6" fill="#8c449e"/>
<rect x="775.2" y="214.3" width="4" height="7.6" fill="#8c449e"/>
<rect x="785.2" y="214.3" width="4" height="7.6" fill="#8c449e"/>
<rect x="795.2" y="214.3" width="4" height="7.6" fill="#8c449e"/>
<rect x="805.2" y="214.3" width="4" height="7.6" fill="#8c449e"/>
<text transform="translate(830.65,289.70) scale(0.856,1)" font-size="50.4" font-weight="bold">E = 3.0</text>
<rect x="765.2" y="269.7" width="4" height="7.6" fill="#22bcbe"/>
<rect x="775.2" y="269.7" width="4" height="7.6" fill="#22bcbe"/>
<rect x="785.2" y="269.7" width="4" height="7.6" fill="#22bcbe"/>
<rect x="795.2" y="269.7" width="4" height="7.6" fill="#22bcbe"/>
<rect x="805.2" y="269.7" width="4" height="7.6" fill="#22bcbe"/>
<rect x="152.6" y="491.7" width="324.6" height="318.4" fill="#fff"/>
<g clip-path="url(#cI)">
<path d="M186.0,810.3 L188.0,810.2 L190.0,810.1 L192.1,810.0 L194.1,809.8 L196.2,809.6 L198.2,809.3 L200.3,809.0 L202.3,808.7 L204.4,808.3 L206.4,807.9 L208.5,807.4 L210.5,806.9 L212.5,806.4 L214.5,805.8 L216.4,805.1 L218.3,804.5 L220.2,803.7 L222.1,802.9 L223.9,802.1 L225.7,801.2 L227.4,800.2 L229.1,799.2 L230.8,798.2 L232.3,797.1 L233.9,795.9 L235.4,794.7 L236.8,793.4 L238.2,792.1 L239.6,790.8 L240.9,789.4 L242.2,788.0 L243.5,786.5 L244.7,785.0 L245.9,783.5 L247.0,781.9 L248.1,780.3 L249.2,778.7 L250.2,777.0 L251.2,775.4 L252.2,773.7 L253.2,771.9 L254.1,770.2 L255.0,768.4 L255.9,766.7 L256.8,764.9 L257.6,763.1 L258.4,761.3 L259.2,759.4 L260.0,757.6 L260.8,755.8 L261.5,753.9 L262.2,752.0 L262.9,750.2 L263.6,748.3 L264.3,746.4 L265.0,744.5 L265.6,742.6 L266.2,740.7 L266.8,738.7 L267.4,736.8 L268.0,734.9 L268.6,732.9 L269.1,731.0 L269.7,729.0 L270.2,727.1 L270.8,725.1 L271.3,723.1 L271.8,721.1 L272.3,719.2 L272.8,717.2 L273.2,715.2 L273.7,713.2 L274.2,711.2 L274.6,709.2 L275.1,707.3 L275.5,705.3 L276.0,703.3 L276.4,701.3 L276.9,699.3 L277.3,697.3 L277.7,695.3 L278.2,693.3 L278.6,691.3 L279.0,689.4 L279.4,687.4 L279.9,685.4 L280.3,683.4 L280.7,681.4 L281.2,679.5 L281.6,677.5 L282.0,675.5 L282.5,673.6 L282.9,671.6 L283.4,669.7 L283.8,667.7 L284.2,665.8 L284.7,663.8 L285.1,661.9 L285.6,659.9 L286.0,658.0 L286.5,656.1 L286.9,654.1 L287.4,652.2 L287.8,650.2 L288.3,648.3 L288.8,646.4 L289.2,644.5 L289.7,642.5 L290.2,640.6 L290.6,638.7 L291.1,636.7 L291.6,634.8 L292.0,632.9 L292.5,631.0 L293.0,629.0 L293.4,627.1 L293.9,625.2 L294.4,623.2 L294.9,621.3 L295.4,619.4 L295.8,617.4 L296.3,615.5 L296.8,613.6 L297.3,611.6 L297.8,609.7 L298.3,607.8 L298.8,605.8 L299.2,603.9 L299.7,601.9 L300.2,600.0 L300.7,598.0 L301.2,596.1 L301.7,594.1 L302.2,592.1 L302.7,590.2 L303.2,588.2 L303.7,586.2 L304.2,584.3 L304.8,582.3 L305.3,580.3 L305.8,578.4 L306.3,576.4 L306.9,574.4 L307.4,572.5 L308.0,570.5 L308.6,568.6 L309.2,566.6 L309.8,564.7 L310.5,562.8 L311.1,560.9 L311.8,559.0 L312.5,557.1 L313.2,555.2 L314.0,553.4 L314.8,551.6 L315.6,549.7 L316.4,547.9 L317.2,546.2 L318.1,544.4 L319.1,542.7 L320.0,540.9 L321.0,539.2 L322.1,537.6 L323.1,535.9 L324.2,534.3 L325.4,532.7 L326.6,531.2 L327.8,529.6 L329.1,528.1 L330.4,526.6 L331.8,525.2 L333.2,523.8 L334.7,522.4 L336.2,521.1 L337.8,519.8 L337.8,519.8 L339.2,521.4 L340.4,523.0 L341.6,524.6 L342.7,526.2 L343.8,527.9 L344.8,529.6 L345.7,531.3 L346.6,533.0 L347.4,534.8 L348.1,536.5 L348.8,538.3 L349.5,540.1 L350.1,541.9 L350.7,543.8 L351.2,545.6 L351.7,547.5 L352.2,549.4 L352.6,551.3 L353.0,553.2 L353.4,555.1 L353.7,557.0 L354.1,559.0 L354.4,561.0 L354.7,562.9 L355.0,564.9 L355.3,566.9 L355.6,568.9 L355.9,570.9 L356.2,572.9 L356.5,574.9 L356.7,576.9 L357.0,578.9 L357.3,581.0 L357.5,583.0 L357.8,585.0 L358.0,587.1 L358.3,589.1 L358.5,591.2 L358.8,593.2 L359.0,595.3 L359.3,597.3 L359.5,599.4 L359.8,601.4 L360.0,603.4 L360.2,605.5 L360.5,607.5 L360.7,609.5 L361.0,611.6 L361.2,613.6 L361.5,615.6 L361.7,617.6 L362.0,619.6 L362.2,621.6 L362.5,623.6 L362.7,625.6 L363.0,627.6 L363.2,629.6 L363.5,631.5 L363.8,633.5 L364.0,635.5 L364.3,637.4 L364.6,639.4 L364.8,641.4 L365.1,643.3 L365.3,645.3 L365.6,647.3 L365.9,649.2 L366.1,651.2 L366.4,653.1 L366.7,655.1 L366.9,657.0 L367.2,659.0 L367.4,660.9 L367.7,662.9 L368.0,664.9 L368.2,666.8 L368.5,668.8 L368.7,670.7 L369.0,672.7 L369.3,674.6 L369.5,676.6 L369.8,678.6 L370.0,680.5 L370.3,682.5 L370.5,684.5 L370.8,686.4 L371.0,688.4 L371.2,690.4 L371.5,692.4 L371.7,694.4 L372.0,696.4 L372.2,698.4 L372.4,700.4 L372.7,702.4 L372.9,704.4 L373.1,706.4 L373.3,708.4 L373.5,710.4 L373.8,712.5 L374.0,714.5 L374.2,716.5 L374.4,718.6 L374.7,720.6 L374.9,722.6 L375.1,724.7 L375.4,726.7 L375.6,728.7 L375.9,730.8 L376.1,732.8 L376.4,734.8 L376.7,736.9 L377.0,738.9 L377.3,740.9 L377.6,742.9 L377.9,744.9 L378.2,746.9 L378.6,748.9 L378.9,750.9 L379.3,752.9 L379.7,754.9 L380.1,756.8 L380.5,758.8 L381.0,760.7 L381.4,762.7 L381.9,764.6 L382.4,766.5 L383.0,768.4 L383.6,770.3 L384.2,772.2 L384.8,774.0 L385.5,775.9 L386.2,777.7 L386.9,779.5 L387.8,781.3 L388.6,783.1 L389.5,784.8 L390.5,786.6 L391.5,788.3 L392.6,790.0 L393.7,791.7 L394.9,793.3 L396.1,795.0 L397.4,796.5 L398.8,798.0 L400.2,799.5 L401.6,800.9 L403.1,802.2 L404.7,803.4 L406.3,804.6 L407.9,805.6 L409.5,806.6 L411.2,807.4 L413.0,808.2 L414.8,808.8 L416.6,809.3 L418.4,809.7 L420.3,810.1 L422.1,810.3 L424.1,810.5 L426.0,810.6 L428.0,810.7 L429.9,810.7 L431.9,810.7 L434.0,810.6 L436.0,810.5 L438.0,810.4 L440.1,810.3 L442.2,810.2 L444.2,810.1 L446.3,809.9 L448.4,809.8 L450.5,809.7 L452.6,809.6 L454.6,809.4 L456.7,809.4 L458.8,809.3 L460.9,809.2 L462.9,809.2 L465.0,809.2 L467.0,809.3 L469.1,809.4 L471.1,809.5 L473.1,809.7 L475.0,810.0 L477.0,810.3 " fill="none" stroke="#ee302e" stroke-width="7.5" stroke-linejoin="round"/>
<ellipse cx="337.8" cy="519.8" rx="7.6" ry="8.4" fill="#ee302e"/>
<path d="M272.0,810.3 L273.2,808.6 L274.4,806.9 L275.6,805.3 L276.7,803.5 L277.8,801.8 L278.9,800.1 L279.9,798.4 L280.8,796.6 L281.8,794.9 L282.6,793.1 L283.5,791.3 L284.3,789.5 L285.1,787.8 L285.9,786.0 L286.6,784.1 L287.3,782.3 L288.0,780.5 L288.7,778.7 L289.3,776.8 L289.9,775.0 L290.5,773.1 L291.0,771.2 L291.6,769.4 L292.1,767.5 L292.6,765.6 L293.0,763.7 L293.5,761.8 L293.9,759.9 L294.3,758.0 L294.7,756.1 L295.1,754.1 L295.5,752.2 L295.9,750.3 L296.2,748.3 L296.6,746.4 L296.9,744.4 L297.2,742.5 L297.5,740.5 L297.8,738.6 L298.1,736.6 L298.4,734.6 L298.7,732.6 L299.0,730.7 L299.3,728.7 L299.6,726.7 L299.8,724.7 L300.1,722.7 L300.4,720.7 L300.6,718.7 L300.9,716.7 L301.1,714.7 L301.4,712.7 L301.6,710.7 L301.9,708.7 L302.1,706.7 L302.4,704.7 L302.6,702.6 L302.9,700.6 L303.1,698.6 L303.3,696.6 L303.6,694.6 L303.8,692.6 L304.0,690.5 L304.2,688.5 L304.5,686.5 L304.7,684.5 L304.9,682.5 L305.2,680.5 L305.4,678.5 L305.6,676.4 L305.8,674.4 L306.1,672.4 L306.3,670.4 L306.5,668.4 L306.7,666.4 L307.0,664.4 L307.2,662.4 L307.4,660.4 L307.7,658.4 L307.9,656.4 L308.2,654.4 L308.4,652.4 L308.7,650.5 L308.9,648.5 L309.1,646.5 L309.4,644.5 L309.6,642.6 L309.9,640.6 L310.1,638.6 L310.4,636.6 L310.6,634.7 L310.9,632.7 L311.2,630.7 L311.4,628.8 L311.7,626.8 L311.9,624.9 L312.2,622.9 L312.4,620.9 L312.7,619.0 L312.9,617.0 L313.2,615.1 L313.4,613.1 L313.7,611.2 L313.9,609.2 L314.2,607.3 L314.4,605.3 L314.7,603.3 L314.9,601.4 L315.2,599.4 L315.4,597.5 L315.6,595.5 L315.9,593.6 L316.1,591.6 L316.3,589.6 L316.6,587.7 L316.8,585.7 L317.1,583.7 L317.3,581.7 L317.5,579.7 L317.8,577.7 L318.0,575.7 L318.3,573.7 L318.5,571.7 L318.8,569.7 L319.0,567.6 L319.3,565.6 L319.5,563.5 L319.8,561.4 L320.1,559.4 L320.4,557.3 L320.7,555.2 L321.0,553.1 L321.4,551.0 L321.9,548.9 L322.4,546.8 L323.1,544.8 L323.8,542.8 L324.7,540.8 L325.7,538.9 L326.8,537.1 L328.0,535.3 L329.3,533.7 L330.6,532.1 L332.0,530.8 L333.4,529.5 L334.8,528.5 L336.2,527.7 L337.7,527.0 L339.1,526.6 L340.5,526.5 L341.8,526.6 L343.1,526.9 L344.4,527.4 L345.6,528.1 L346.8,529.0 L348.0,530.1 L349.1,531.3 L350.2,532.7 L351.3,534.2 L352.4,535.8 L353.4,537.5 L354.4,539.3 L355.3,541.2 L356.2,543.1 L357.1,545.1 L358.0,547.1 L358.8,549.2 L359.7,551.3 L360.4,553.3 L361.2,555.4 L361.9,557.5 L362.6,559.5 L363.3,561.6 L364.0,563.6 L364.6,565.6 L365.2,567.6 L365.9,569.6 L366.4,571.5 L367.0,573.5 L367.6,575.4 L368.1,577.3 L368.6,579.2 L369.1,581.1 L369.6,583.0 L370.1,584.9 L370.6,586.8 L371.1,588.7 L371.6,590.6 L372.0,592.5 L372.5,594.4 L373.0,596.2 L373.4,598.1 L373.9,600.0 L374.4,601.9 L374.8,603.8 L375.3,605.7 L375.8,607.6 L376.3,609.5 L376.7,611.4 L377.2,613.3 L377.7,615.2 L378.2,617.2 L378.7,619.1 L379.1,621.0 L379.6,622.9 L380.1,624.9 L380.6,626.8 L381.1,628.7 L381.6,630.7 L382.1,632.6 L382.6,634.6 L383.1,636.5 L383.6,638.5 L384.1,640.4 L384.6,642.4 L385.0,644.3 L385.5,646.3 L386.0,648.2 L386.5,650.2 L387.0,652.1 L387.5,654.1 L388.0,656.0 L388.5,658.0 L389.0,660.0 L389.5,661.9 L390.0,663.9 L390.4,665.8 L390.9,667.8 L391.4,669.8 L391.9,671.7 L392.4,673.7 L392.9,675.6 L393.3,677.6 L393.8,679.6 L394.3,681.5 L394.7,683.5 L395.2,685.4 L395.7,687.4 L396.1,689.3 L396.6,691.3 L397.1,693.3 L397.5,695.2 L398.0,697.2 L398.5,699.1 L398.9,701.1 L399.4,703.0 L399.9,704.9 L400.3,706.9 L400.8,708.8 L401.3,710.8 L401.8,712.7 L402.3,714.6 L402.7,716.6 L403.2,718.5 L403.7,720.5 L404.2,722.4 L404.7,724.3 L405.3,726.2 L405.8,728.2 L406.3,730.1 L406.8,732.0 L407.4,733.9 L407.9,735.8 L408.5,737.8 L409.1,739.7 L409.6,741.6 L410.2,743.5 L410.8,745.4 L411.4,747.3 L412.0,749.2 L412.7,751.1 L413.3,753.0 L414.0,754.9 L414.6,756.8 L415.3,758.7 L416.0,760.6 L416.7,762.4 L417.4,764.3 L418.1,766.2 L418.9,768.0 L419.7,769.9 L420.5,771.7 L421.3,773.5 L422.2,775.3 L423.1,777.0 L424.0,778.8 L425.0,780.5 L426.0,782.2 L427.1,783.8 L428.2,785.4 L429.3,787.0 L430.5,788.6 L431.8,790.1 L433.1,791.5 L434.5,792.9 L435.9,794.3 L437.4,795.6 L438.9,796.9 L440.5,798.1 L442.2,799.2 L443.9,800.3 L445.7,801.4 L447.5,802.3 L449.3,803.3 L451.2,804.1 L453.1,804.9 L455.1,805.6 L457.1,806.2 L459.0,806.7 L461.0,807.2 L463.0,807.6 L465.1,807.9 L467.1,808.1 L469.1,808.2 L471.1,808.3 L473.1,808.2 L475.0,808.0 L477.0,807.8 " fill="none" stroke="#ee302e" stroke-width="7.5" stroke-linejoin="round" stroke-dasharray="4 6"/>
<path d="M157.0,810.3 L159.1,810.0 L161.2,809.7 L163.3,809.2 L165.3,808.7 L167.3,808.2 L169.3,807.5 L171.2,806.8 L173.1,806.1 L174.9,805.3 L176.7,804.4 L178.5,803.4 L180.2,802.5 L181.9,801.4 L183.6,800.3 L185.2,799.1 L186.7,797.9 L188.2,796.7 L189.7,795.4 L191.1,794.0 L192.4,792.7 L193.7,791.2 L195.0,789.8 L196.2,788.2 L197.3,786.7 L198.4,785.1 L199.4,783.5 L200.4,781.9 L201.4,780.2 L202.3,778.5 L203.1,776.7 L204.0,775.0 L204.8,773.2 L205.5,771.4 L206.2,769.6 L206.9,767.7 L207.6,765.9 L208.2,764.0 L208.8,762.1 L209.4,760.2 L210.0,758.3 L210.6,756.3 L211.1,754.4 L211.6,752.5 L212.1,750.5 L212.6,748.6 L213.1,746.6 L213.6,744.7 L214.1,742.7 L214.5,740.7 L215.0,738.8 L215.4,736.8 L215.8,734.8 L216.3,732.9 L216.7,730.9 L217.1,728.9 L217.5,726.9 L217.9,724.9 L218.2,722.9 L218.6,720.9 L219.0,718.9 L219.4,716.9 L219.7,714.9 L220.1,712.9 L220.4,710.9 L220.8,708.9 L221.1,706.9 L221.4,704.9 L221.8,702.9 L222.1,700.9 L222.4,698.9 L222.7,696.9 L223.1,694.9 L223.4,692.9 L223.7,690.9 L224.0,688.9 L224.3,686.9 L224.6,684.9 L225.0,682.9 L225.3,680.9 L225.6,678.9 L225.9,676.8 L226.2,674.8 L226.5,672.8 L226.8,670.9 L227.2,668.9 L227.5,666.9 L227.8,664.9 L228.1,662.9 L228.4,660.9 L228.8,658.9 L229.1,656.9 L229.4,654.9 L229.8,652.9 L230.1,651.0 L230.4,649.0 L230.8,647.0 L231.1,645.0 L231.4,643.0 L231.8,641.1 L232.1,639.1 L232.5,637.1 L232.8,635.1 L233.2,633.2 L233.5,631.2 L233.9,629.2 L234.2,627.2 L234.6,625.3 L234.9,623.3 L235.3,621.3 L235.7,619.3 L236.0,617.4 L236.4,615.4 L236.7,613.4 L237.1,611.5 L237.5,609.5 L237.8,607.5 L238.2,605.5 L238.6,603.6 L239.0,601.6 L239.3,599.6 L239.7,597.7 L240.1,595.7 L240.5,593.7 L240.8,591.7 L241.2,589.8 L241.6,587.8 L242.0,585.8 L242.4,583.8 L242.7,581.9 L243.1,579.9 L243.5,577.9 L243.9,575.9 L244.4,574.0 L244.8,572.0 L245.2,570.1 L245.7,568.1 L246.1,566.2 L246.6,564.3 L247.1,562.3 L247.6,560.4 L248.1,558.5 L248.7,556.6 L249.2,554.8 L249.8,552.9 L250.4,551.1 L251.1,549.3 L251.8,547.4 L252.5,545.7 L253.2,543.9 L254.0,542.1 L254.8,540.4 L255.6,538.7 L256.5,537.0 L257.5,535.3 L258.5,533.7 L259.6,532.1 L260.7,530.5 L262.0,528.9 L263.3,527.4 L264.6,525.9 L266.1,524.4 L267.6,522.9 L269.2,521.5 L269.2,521.5 L270.6,522.9 L272.0,524.3 L273.4,525.8 L274.7,527.2 L276.0,528.7 L277.2,530.2 L278.4,531.8 L279.5,533.3 L280.7,534.9 L281.8,536.5 L282.8,538.2 L283.8,539.8 L284.8,541.5 L285.8,543.2 L286.7,544.9 L287.6,546.6 L288.5,548.3 L289.4,550.1 L290.2,551.8 L291.0,553.6 L291.7,555.4 L292.5,557.2 L293.2,559.1 L293.9,560.9 L294.5,562.8 L295.2,564.7 L295.8,566.5 L296.4,568.4 L297.0,570.3 L297.6,572.3 L298.1,574.2 L298.6,576.1 L299.1,578.1 L299.6,580.0 L300.1,582.0 L300.6,584.0 L301.0,585.9 L301.5,587.9 L301.9,589.9 L302.3,591.9 L302.7,593.9 L303.1,595.9 L303.5,597.9 L303.8,599.9 L304.2,601.9 L304.5,604.0 L304.9,606.0 L305.2,608.0 L305.6,610.0 L305.9,612.0 L306.2,614.1 L306.6,616.1 L306.9,618.1 L307.2,620.1 L307.5,622.1 L307.9,624.1 L308.2,626.1 L308.5,628.1 L308.8,630.1 L309.2,632.1 L309.5,634.1 L309.8,636.1 L310.2,638.1 L310.5,640.1 L310.8,642.0 L311.2,644.0 L311.5,646.0 L311.9,647.9 L312.2,649.9 L312.6,651.9 L312.9,653.8 L313.3,655.8 L313.6,657.7 L314.0,659.7 L314.3,661.6 L314.7,663.6 L315.1,665.6 L315.4,667.5 L315.8,669.4 L316.2,671.4 L316.5,673.3 L316.9,675.3 L317.3,677.2 L317.6,679.2 L318.0,681.1 L318.4,683.1 L318.8,685.0 L319.2,687.0 L319.5,688.9 L319.9,690.9 L320.3,692.8 L320.7,694.8 L321.1,696.7 L321.5,698.7 L321.8,700.6 L322.2,702.6 L322.6,704.6 L323.0,706.5 L323.4,708.5 L323.8,710.5 L324.2,712.4 L324.6,714.4 L325.0,716.4 L325.4,718.4 L325.8,720.4 L326.2,722.3 L326.6,724.3 L327.0,726.3 L327.4,728.3 L327.8,730.3 L328.2,732.4 L328.7,734.4 L329.1,736.4 L329.5,738.4 L330.0,740.4 L330.4,742.4 L330.9,744.4 L331.4,746.4 L331.9,748.3 L332.4,750.3 L333.0,752.3 L333.6,754.2 L334.2,756.2 L334.8,758.1 L335.4,760.0 L336.1,761.9 L336.8,763.8 L337.6,765.7 L338.4,767.5 L339.2,769.4 L340.0,771.2 L340.9,772.9 L341.9,774.7 L342.8,776.4 L343.9,778.2 L344.9,779.8 L346.0,781.5 L347.2,783.1 L348.4,784.7 L349.6,786.2 L350.9,787.7 L352.2,789.2 L353.5,790.6 L354.9,792.0 L356.3,793.3 L357.8,794.6 L359.3,795.8 L360.8,796.9 L362.4,798.0 L364.0,799.0 L365.7,800.0 L367.4,800.9 L369.1,801.7 L370.8,802.5 L372.6,803.2 L374.4,803.8 L376.3,804.4 L378.1,804.9 L380.0,805.3 L382.0,805.7 L383.9,806.1 L385.9,806.4 L387.9,806.7 L389.9,806.9 L391.9,807.1 L393.9,807.3 L396.0,807.4 L398.0,807.6 L400.1,807.7 L402.2,807.7 L404.3,807.8 L406.3,807.9 L408.4,807.9 L410.5,807.9 L412.6,808.0 L414.7,808.0 L416.8,808.0 L418.9,808.1 L421.0,808.2 L423.1,808.2 L425.1,808.3 L427.2,808.4 L429.2,808.5 L431.3,808.6 L433.3,808.7 L435.4,808.8 L437.4,809.0 L439.4,809.1 L441.4,809.2 L443.5,809.3 L445.5,809.5 L447.5,809.6 L449.5,809.7 L451.5,809.8 L453.5,809.9 L455.4,810.0 L457.4,810.1 L459.4,810.2 L461.4,810.3 L463.3,810.3 L465.3,810.4 L467.3,810.4 L469.2,810.4 L471.2,810.4 L473.1,810.4 L475.1,810.4 L477.0,810.3 " fill="none" stroke="#2354a4" stroke-width="7.5" stroke-linejoin="round"/>
<ellipse cx="269.4" cy="521.5" rx="7.6" ry="8.4" fill="#3557a8"/>
<path d="M270.4,810.3 L270.4,543.7 L270.5,543.7 L270.9,545.8 L271.3,547.8 L271.8,549.8 L272.2,551.8 L272.7,553.8 L273.2,555.8 L273.7,557.8 L274.2,559.8 L274.8,561.8 L275.3,563.7 L275.9,565.7 L276.5,567.6 L277.1,569.5 L277.7,571.4 L278.3,573.4 L278.9,575.3 L279.6,577.2 L280.2,579.0 L280.9,580.9 L281.6,582.8 L282.3,584.7 L283.0,586.5 L283.7,588.4 L284.4,590.2 L285.1,592.0 L285.9,593.9 L286.6,595.7 L287.4,597.5 L288.2,599.3 L288.9,601.2 L289.7,603.0 L290.5,604.8 L291.3,606.6 L292.1,608.4 L292.9,610.1 L293.8,611.9 L294.6,613.7 L295.4,615.5 L296.3,617.3 L297.1,619.1 L298.0,620.8 L298.8,622.6 L299.7,624.4 L300.5,626.1 L301.4,627.9 L302.2,629.7 L303.1,631.5 L304.0,633.2 L304.8,635.0 L305.7,636.8 L306.6,638.5 L307.5,640.3 L308.3,642.1 L309.2,643.8 L310.1,645.6 L311.0,647.4 L311.8,649.1 L312.7,650.9 L313.6,652.7 L314.5,654.5 L315.3,656.3 L316.2,658.1 L317.1,659.9 L317.9,661.6 L318.8,663.4 L319.6,665.2 L320.5,667.1 L321.3,668.9 L322.2,670.7 L323.0,672.5 L323.8,674.3 L324.7,676.2 L325.5,678.0 L326.3,679.8 L327.1,681.7 L327.9,683.6 L328.7,685.4 L329.5,687.3 L330.2,689.2 L331.0,691.1 L331.8,693.0 L332.5,694.9 L333.3,696.8 L334.0,698.7 L334.7,700.6 L335.5,702.5 L336.2,704.4 L336.9,706.4 L337.6,708.3 L338.4,710.2 L339.1,712.1 L339.8,714.1 L340.5,716.0 L341.2,717.9 L342.0,719.9 L342.7,721.8 L343.4,723.7 L344.2,725.6 L344.9,727.5 L345.6,729.5 L346.4,731.4 L347.1,733.3 L347.9,735.1 L348.7,737.0 L349.5,738.9 L350.2,740.8 L351.0,742.6 L351.9,744.5 L352.7,746.3 L353.5,748.2 L354.4,750.0 L355.2,751.8 L356.1,753.6 L357.0,755.4 L357.9,757.1 L358.8,758.9 L359.8,760.6 L360.7,762.3 L361.7,764.0 L362.7,765.7 L363.7,767.4 L364.8,769.0 L365.8,770.7 L366.9,772.3 L368.0,773.9 L369.1,775.4 L370.3,777.0 L371.5,778.5 L372.7,780.0 L373.9,781.5 L375.2,782.9 L376.5,784.4 L377.8,785.8 L379.1,787.1 L380.5,788.5 L381.9,789.8 L383.3,791.1 L384.8,792.4 L386.3,793.6 L387.8,794.8 L389.4,796.0 L390.9,797.1 L392.6,798.2 L394.2,799.2 L395.8,800.2 L397.5,801.1 L399.2,802.0 L401.0,802.9 L402.7,803.6 L404.5,804.4 L406.3,805.0 L408.1,805.6 L410.0,806.1 L411.8,806.6 L413.7,807.0 L415.6,807.4 L417.5,807.7 L419.4,808.0 L421.4,808.2 L423.3,808.4 L425.3,808.5 L427.3,808.6 L429.3,808.6 L431.3,808.6 L433.3,808.6 L435.3,808.6 L437.4,808.5 L439.4,808.4 L441.5,808.3 L443.6,808.2 L445.6,808.1 L447.7,808.0 L449.8,807.9 L451.9,807.8 L454.0,807.7 L456.1,807.7 L458.2,807.6 L460.3,807.6 L462.3,807.6 L464.4,807.6 L466.5,807.7 L468.6,807.8 L470.7,808.0 L472.8,808.2 L474.9,808.5 L477.0,808.8 " fill="none" stroke="#2354a4" stroke-width="7.5" stroke-linejoin="round" stroke-dasharray="4 6"/>
<path d="M155.0,810.3 L155.6,808.4 L156.1,806.5 L156.7,804.5 L157.2,802.6 L157.8,800.7 L158.3,798.7 L158.8,796.8 L159.3,794.8 L159.8,792.9 L160.3,791.0 L160.8,789.0 L161.2,787.1 L161.7,785.1 L162.2,783.2 L162.6,781.2 L163.0,779.3 L163.5,777.3 L163.9,775.3 L164.3,773.4 L164.7,771.4 L165.1,769.5 L165.5,767.5 L165.9,765.5 L166.2,763.5 L166.6,761.6 L166.9,759.6 L167.3,757.6 L167.6,755.7 L168.0,753.7 L168.3,751.7 L168.6,749.7 L168.9,747.7 L169.3,745.7 L169.6,743.8 L169.9,741.8 L170.2,739.8 L170.4,737.8 L170.7,735.8 L171.0,733.8 L171.3,731.8 L171.5,729.8 L171.8,727.8 L172.1,725.8 L172.3,723.8 L172.6,721.8 L172.8,719.8 L173.0,717.8 L173.3,715.8 L173.5,713.8 L173.7,711.8 L174.0,709.8 L174.2,707.8 L174.4,705.8 L174.6,703.8 L174.8,701.8 L175.0,699.7 L175.2,697.7 L175.4,695.7 L175.6,693.7 L175.8,691.7 L176.0,689.7 L176.2,687.7 L176.4,685.6 L176.6,683.6 L176.8,681.6 L176.9,679.6 L177.1,677.6 L177.3,675.5 L177.5,673.5 L177.6,671.5 L177.8,669.5 L178.0,667.5 L178.2,665.4 L178.3,663.4 L178.5,661.4 L178.7,659.4 L178.8,657.3 L179.0,655.3 L179.2,653.3 L179.4,651.3 L179.5,649.2 L179.7,647.2 L179.9,645.2 L180.0,643.2 L180.2,641.1 L180.4,639.1 L180.5,637.1 L180.7,635.1 L180.9,633.0 L181.0,631.0 L181.2,629.0 L181.4,627.0 L181.6,625.0 L181.7,623.0 L181.9,620.9 L182.1,618.9 L182.2,616.9 L182.4,614.9 L182.6,612.9 L182.7,610.9 L182.9,608.9 L183.1,606.9 L183.3,604.9 L183.4,602.9 L183.6,600.9 L183.8,598.9 L184.0,596.9 L184.1,594.9 L184.3,592.9 L184.5,591.0 L184.7,589.0 L184.9,587.0 L185.0,585.0 L185.2,583.1 L185.4,581.1 L185.6,579.1 L185.8,577.2 L186.0,575.2 L186.2,573.3 L186.4,571.3 L186.6,569.4 L186.8,567.4 L187.1,565.5 L187.3,563.6 L187.6,561.6 L187.9,559.7 L188.2,557.8 L188.6,555.9 L188.9,554.0 L189.3,552.1 L189.8,550.2 L190.2,548.3 L190.7,546.4 L191.2,544.5 L191.8,542.6 L192.4,540.7 L193.0,538.9 L193.7,537.0 L194.4,535.1 L195.1,533.3 L195.9,531.4 L196.8,529.6 L197.7,527.8 L198.6,525.9 L199.6,524.1 L200.7,522.3 L201.8,520.5 L201.8,520.5 L203.2,521.9 L204.5,523.3 L205.7,524.8 L207.0,526.3 L208.2,527.8 L209.4,529.3 L210.5,530.9 L211.6,532.4 L212.7,534.1 L213.8,535.7 L214.8,537.4 L215.8,539.0 L216.8,540.7 L217.7,542.5 L218.6,544.2 L219.5,546.0 L220.4,547.7 L221.2,549.5 L222.1,551.3 L222.9,553.2 L223.7,555.0 L224.4,556.9 L225.2,558.7 L225.9,560.6 L226.6,562.5 L227.3,564.4 L228.0,566.3 L228.7,568.3 L229.3,570.2 L230.0,572.1 L230.6,574.1 L231.2,576.0 L231.8,578.0 L232.4,580.0 L233.0,581.9 L233.6,583.9 L234.1,585.9 L234.7,587.9 L235.3,589.8 L235.8,591.8 L236.4,593.8 L236.9,595.8 L237.5,597.7 L238.0,599.7 L238.6,601.7 L239.1,603.6 L239.7,605.6 L240.2,607.5 L240.8,609.5 L241.3,611.4 L241.9,613.3 L242.4,615.3 L243.0,617.2 L243.5,619.1 L244.1,621.0 L244.7,622.9 L245.2,624.9 L245.8,626.8 L246.3,628.7 L246.9,630.6 L247.5,632.5 L248.0,634.4 L248.6,636.3 L249.1,638.2 L249.7,640.1 L250.2,641.9 L250.8,643.8 L251.3,645.7 L251.9,647.6 L252.4,649.5 L253.0,651.4 L253.5,653.3 L254.1,655.2 L254.6,657.1 L255.2,659.0 L255.7,660.9 L256.2,662.8 L256.8,664.7 L257.3,666.6 L257.8,668.5 L258.4,670.4 L258.9,672.3 L259.4,674.3 L259.9,676.2 L260.4,678.1 L261.0,680.0 L261.5,682.0 L262.0,683.9 L262.5,685.9 L263.0,687.8 L263.4,689.8 L263.9,691.7 L264.4,693.7 L264.9,695.7 L265.4,697.7 L265.9,699.7 L266.3,701.6 L266.8,703.6 L267.3,705.6 L267.8,707.6 L268.3,709.6 L268.8,711.6 L269.2,713.6 L269.7,715.6 L270.2,717.6 L270.8,719.6 L271.3,721.6 L271.8,723.6 L272.3,725.5 L272.9,727.5 L273.4,729.5 L274.0,731.5 L274.6,733.4 L275.2,735.4 L275.8,737.3 L276.4,739.2 L277.0,741.2 L277.7,743.1 L278.4,745.0 L279.1,746.9 L279.8,748.8 L280.5,750.7 L281.2,752.5 L282.0,754.4 L282.8,756.2 L283.6,758.1 L284.4,759.9 L285.3,761.7 L286.2,763.5 L287.1,765.2 L288.0,767.0 L288.9,768.7 L289.9,770.4 L290.9,772.1 L292.0,773.8 L293.0,775.5 L294.1,777.1 L295.3,778.7 L296.4,780.3 L297.6,781.9 L298.8,783.4 L300.1,785.0 L301.4,786.5 L302.7,788.0 L304.0,789.4 L305.4,790.8 L306.8,792.2 L308.3,793.6 L309.8,794.9 L311.3,796.2 L312.8,797.4 L314.4,798.6 L316.0,799.8 L317.6,800.9 L319.2,802.0 L320.9,803.0 L322.6,803.9 L324.3,804.8 L326.1,805.6 L327.8,806.4 L329.6,807.1 L331.5,807.7 L333.3,808.3 L335.2,808.8 L337.0,809.3 L338.9,809.7 L340.8,810.0 L342.8,810.3 L344.7,810.5 L346.7,810.7 L348.7,810.8 L350.7,810.9 L352.7,811.0 L354.7,811.1 L356.8,811.1 L358.8,811.1 L360.9,811.0 L363.0,811.0 L365.1,810.9 L367.2,810.8 L369.3,810.7 L371.4,810.6 L373.6,810.6 L375.7,810.5 L377.8,810.4 L380.0,810.3 L477.0,810.3 " fill="none" stroke="#231f20" stroke-width="7.5" stroke-linejoin="round"/>
<ellipse cx="201.8" cy="520.5" rx="7.7" ry="8.5" fill="#111213"/>
<path d="M268.5,810.3 L269.0,808.7 L269.5,807.0 L270.1,805.1 L270.8,803.2 L271.6,801.2 L272.4,799.1 L273.3,797.1 L274.2,795.0 L275.2,792.9 L276.3,790.9 L277.4,789.0 L278.6,787.2 L279.8,785.4 L281.0,783.8 L282.3,782.4 L283.7,781.1 L285.1,779.9 L286.5,778.9 L288.0,778.1 L289.5,777.4 L291.0,777.0 L292.5,776.7 L294.1,776.5 L295.7,776.6 L297.3,776.8 L299.0,777.3 L300.6,777.9 L302.3,778.7 L304.0,779.7 L305.7,780.8 L307.4,782.0 L309.1,783.3 L310.9,784.7 L312.6,786.0 L314.4,787.4 L316.1,788.7 L317.9,789.9 L319.7,791.1 L321.5,792.3 L323.3,793.3 L325.1,794.3 L327.0,795.2 L328.8,796.1 L330.7,796.9 L332.5,797.6 L334.4,798.4 L336.3,799.0 L338.1,799.7 L340.0,800.3 L341.9,800.9 L343.8,801.5 L345.7,802.0 L347.6,802.5 L349.5,803.0 L351.5,803.5 L353.4,803.9 L355.3,804.3 L357.2,804.7 L359.2,805.1 L361.1,805.4 L363.1,805.8 L365.0,806.1 L367.0,806.4 L368.9,806.7 L370.9,806.9 L372.9,807.2 L374.8,807.4 L376.8,807.6 L378.8,807.8 L380.8,808.0 L382.8,808.1 L384.7,808.3 L386.7,808.4 L388.7,808.6 L390.7,808.7 L392.7,808.8 L394.7,808.9 L396.7,808.9 L398.7,809.0 L400.7,809.1 L402.7,809.1 L404.7,809.2 L406.8,809.2 L408.8,809.2 L410.8,809.2 L412.8,809.3 L414.8,809.3 L416.8,809.3 L418.8,809.3 L420.9,809.3 L422.9,809.3 L424.9,809.3 L426.9,809.2 L428.9,809.2 L431.0,809.2 L433.0,809.2 L435.0,809.2 L437.0,809.2 L439.0,809.2 L441.0,809.2 L443.0,809.2 L445.1,809.2 L447.1,809.2 L449.1,809.2 L451.1,809.2 L453.1,809.2 L455.1,809.2 L457.1,809.2 L459.1,809.3 L461.1,809.3 L463.1,809.4 L465.1,809.4 L467.1,809.5 L469.1,809.6 L471.1,809.7 L473.0,809.8 L475.0,809.9 L477.0,810.0 " fill="none" stroke="#231f20" stroke-width="7.5" stroke-linejoin="round" stroke-dasharray="4 6"/>
</g>
<rect x="152.6" y="491.7" width="324.6" height="318.59999999999997" fill="none" stroke="#231f20" stroke-width="4.8"/>
<line x1="144.2" y1="520.6" x2="152.6" y2="520.6" stroke="#231f20" stroke-width="4.4" stroke-linecap="butt"/>
<line x1="144.2" y1="578.6" x2="152.6" y2="578.6" stroke="#231f20" stroke-width="4.4" stroke-linecap="butt"/>
<line x1="144.2" y1="637.1" x2="152.6" y2="637.1" stroke="#231f20" stroke-width="4.4" stroke-linecap="butt"/>
<line x1="144.2" y1="694.9" x2="152.6" y2="694.9" stroke="#231f20" stroke-width="4.4" stroke-linecap="butt"/>
<line x1="144.2" y1="752.4" x2="152.6" y2="752.4" stroke="#231f20" stroke-width="4.4" stroke-linecap="butt"/>
<line x1="144.2" y1="810.4" x2="152.6" y2="810.4" stroke="#231f20" stroke-width="4.4" stroke-linecap="butt"/>
<line x1="156.4" y1="810.3" x2="156.4" y2="819.5" stroke="#231f20" stroke-width="4.8" stroke-linecap="butt"/>
<line x1="201.7" y1="810.3" x2="201.7" y2="819.5" stroke="#231f20" stroke-width="4.8" stroke-linecap="butt"/>
<line x1="246.6" y1="810.3" x2="246.6" y2="819.5" stroke="#231f20" stroke-width="4.8" stroke-linecap="butt"/>
<line x1="292.1" y1="810.3" x2="292.1" y2="819.5" stroke="#231f20" stroke-width="4.8" stroke-linecap="butt"/>
<line x1="337.0" y1="810.3" x2="337.0" y2="819.5" stroke="#231f20" stroke-width="4.8" stroke-linecap="butt"/>
<line x1="382.1" y1="810.3" x2="382.1" y2="819.5" stroke="#231f20" stroke-width="4.8" stroke-linecap="butt"/>
<line x1="427.1" y1="810.3" x2="427.1" y2="819.5" stroke="#231f20" stroke-width="4.8" stroke-linecap="butt"/>
<line x1="472.2" y1="810.3" x2="472.2" y2="819.5" stroke="#231f20" stroke-width="4.8" stroke-linecap="butt"/>
<text transform="translate(106.35,531.10) scale(0.830,1)" font-size="34.00" font-weight="bold">1.0</text>
<text transform="translate(107.91,588.40) scale(0.830,1)" font-size="34.00" font-weight="bold">0.8</text>
<text transform="translate(105.79,762.40) scale(0.830,1)" font-size="34.00" font-weight="bold">0.2</text>
<text transform="translate(107.85,819.70) scale(0.830,1)" font-size="34.00" font-weight="bold">0.0</text>
<text transform="translate(131.14,849.10) scale(0.800,1)" font-size="34.50" font-weight="bold">–4</text>
<text transform="translate(182.14,848.80) scale(0.800,1)" font-size="34.50" font-weight="bold">–3</text>
<text transform="translate(227.94,849.00) scale(0.800,1)" font-size="34.50" font-weight="bold">–2</text>
<text transform="translate(273.84,849.10) scale(0.800,1)" font-size="34.50" font-weight="bold">–1</text>
<text transform="translate(329.90,851.70) scale(0.800,1)" font-size="34.50" font-weight="bold">0</text>
<text transform="translate(375.29,848.60) scale(0.800,1)" font-size="34.50" font-weight="bold">1</text>
<text transform="translate(420.20,848.60) scale(0.800,1)" font-size="34.50" font-weight="bold">2</text>
<text transform="translate(460.80,847.80) scale(0.800,1)" font-size="34.50" font-weight="bold">3</text>
<text transform="translate(302.7,872.7) scale(0.83,1)" font-size="39.6" font-weight="bold">q</text>
<text transform="translate(129.7,681.5) scale(0.886,1) rotate(-90)" font-size="37.5" font-weight="bold">T</text>
<line x1="119.2" y1="652.8" x2="133.7" y2="652.8" stroke="#000" stroke-width="2.0" stroke-linecap="butt"/>
<line x1="126.5" y1="644.2" x2="126.5" y2="661.5" stroke="#000" stroke-width="2.0" stroke-linecap="butt"/>
<line x1="135.6" y1="644.2" x2="135.6" y2="661.5" stroke="#000" stroke-width="2.0" stroke-linecap="butt"/>
<text transform="translate(404.9,525.8) scale(0.78,1)" font-size="39.4" font-weight="bold">A</text>
<text transform="translate(427.9,539.2) scale(0.80,1)" font-size="34.6" font-weight="bold">M</text>
<rect x="400.8" y="560.4" width="39.5" height="7.2" fill="#ee302e"/>
<rect x="400.8" y="601.0" width="39.5" height="7.2" fill="#2354a4"/>
<rect x="400.8" y="641.0" width="39.5" height="7.2" fill="#231f20"/>
<text transform="translate(449.42,573.00) scale(0.880,1)" font-size="39.30" font-weight="bold">0</text>
<text transform="translate(448.93,614.70) scale(0.880,1)" font-size="39.30" font-weight="bold">1</text>
<text transform="translate(447.32,656.70) scale(0.880,1)" font-size="39.30" font-weight="bold">2</text>
</svg></body></html>
